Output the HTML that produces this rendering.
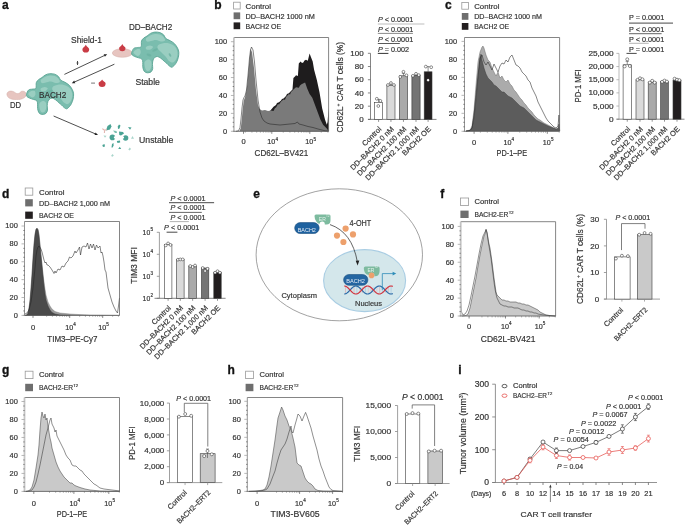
<!DOCTYPE html>
<html><head><meta charset="utf-8"><title>Figure</title>
<style>
html,body{margin:0;padding:0;background:#fff;}
body{width:685px;height:526px;overflow:hidden;}
svg{display:block;font-family:"Liberation Sans",sans-serif;will-change:transform;}
text:not([fill]){stroke:#333;stroke-width:0.18px;}

</style></head><body>
<svg width="685" height="526" viewBox="0 0 685 526">
<rect width="685" height="526" fill="#fff"/>
<g fill="#333">
<text x="1.90" y="9.20" font-size="12" fill="#111" font-weight="bold" stroke="#111" stroke-width="0.3">a</text>
<text x="71.00" y="42.60" font-size="8.4" textLength="31.00" lengthAdjust="spacingAndGlyphs">Shield-1</text>
<path d="M85.80,44.80 C86.82,47.14 89.20,47.84 89.20,49.20 A3.40,3.40 0 0 1 82.40,49.20 C82.40,47.84 84.78,47.14 85.80,44.80 Z" fill="#c93c45"/>
<line x1="64.40" y1="74.40" x2="104.76" y2="55.35" stroke="#222" stroke-width="0.8"/>
<path d="M107.20,54.20 L104.90,56.83 L103.71,54.30 Z" fill="#222"/>
<line x1="114.40" y1="64.20" x2="74.27" y2="82.10" stroke="#222" stroke-width="0.8"/>
<path d="M71.80,83.20 L74.15,80.62 L75.29,83.18 Z" fill="#222"/>
<line x1="76.00" y1="63.00" x2="79.00" y2="63.00" stroke="#777" stroke-width="0.6"/>
<line x1="77.50" y1="61.00" x2="77.50" y2="65.00" stroke="#333" stroke-width="0.9"/>
<line x1="91.10" y1="83.10" x2="95.00" y2="83.10" stroke="#666" stroke-width="0.9"/>
<path d="M102.10,79.60 C103.15,81.79 105.60,82.00 105.60,83.40 A3.50,3.50 0 0 1 98.60,83.40 C98.60,82.00 101.05,81.79 102.10,79.60 Z" fill="#c93c45"/>
<ellipse cx="122.3" cy="53" rx="10" ry="4.3" fill="#e7c5c0" stroke="#d2aaa5" stroke-width="0.5"/>
<path d="M122.30,44.00 C123.26,46.19 125.50,46.82 125.50,48.10 A3.20,3.20 0 0 1 119.10,48.10 C119.10,46.82 121.34,46.19 122.30,44.00 Z" fill="#c93c45"/>
<path d="M131.70,52.70 C131.98,51.63 132.80,49.27 133.80,48.40 C134.80,47.53 136.48,47.78 137.70,47.50 C138.92,47.22 140.47,47.77 141.10,46.70 C141.73,45.63 141.07,42.53 141.50,41.10 C141.93,39.67 142.77,38.95 143.70,38.10 C144.63,37.25 145.97,36.78 147.10,36.00 C148.23,35.22 149.22,34.05 150.50,33.40 C151.78,32.75 153.23,32.23 154.80,32.10 C156.37,31.97 158.40,32.10 159.90,32.60 C161.40,33.10 162.80,34.10 163.80,35.10 C164.80,36.10 164.83,37.67 165.90,38.60 C166.97,39.53 168.77,39.85 170.20,40.70 C171.63,41.55 173.28,42.48 174.50,43.70 C175.72,44.92 176.78,46.58 177.50,48.00 C178.22,49.42 178.67,50.63 178.80,52.20 C178.93,53.77 178.67,55.75 178.30,57.40 C177.93,59.05 177.23,60.82 176.60,62.10 C175.97,63.38 175.28,64.25 174.50,65.10 C173.72,65.95 172.77,67.07 171.90,67.20 C171.03,67.33 170.15,66.53 169.30,65.90 C168.45,65.27 167.65,64.18 166.80,63.40 C165.95,62.62 165.20,62.07 164.20,61.20 C163.20,60.33 161.93,58.98 160.80,58.20 C159.67,57.42 158.40,56.63 157.40,56.50 C156.40,56.37 155.52,56.83 154.80,57.40 C154.08,57.97 153.50,58.77 153.10,59.90 C152.70,61.03 152.47,62.77 152.40,64.20 C152.33,65.63 152.93,67.22 152.70,68.50 C152.47,69.78 151.93,71.18 151.00,71.90 C150.07,72.62 148.25,72.93 147.10,72.80 C145.95,72.67 144.82,72.10 144.10,71.10 C143.38,70.10 143.02,68.23 142.80,66.80 C142.58,65.37 142.93,63.78 142.80,62.50 C142.67,61.22 142.70,59.88 142.00,59.10 C141.30,58.32 139.82,58.23 138.60,57.80 C137.38,57.37 135.78,57.00 134.70,56.50 C133.62,56.00 132.60,55.43 132.10,54.80 C131.60,54.17 131.42,53.77 131.70,52.70 Z" fill="#7abdae" stroke="#5aa493" stroke-width="0.9"/>
<path d="M146.00,38.50 C146.50,37.50 148.50,36.25 150.00,35.50 C151.50,34.75 153.33,34.17 155.00,34.00 C156.67,33.83 158.58,34.00 160.00,34.50 C161.42,35.00 162.67,36.00 163.50,37.00 C164.33,38.00 165.42,39.75 165.00,40.50 C164.58,41.25 162.50,41.58 161.00,41.50 C159.50,41.42 157.67,40.08 156.00,40.00 C154.33,39.92 152.50,40.75 151.00,41.00 C149.50,41.25 147.83,41.92 147.00,41.50 C146.17,41.08 145.50,39.50 146.00,38.50 Z" fill="#9dcfc3" opacity="0.9"/>
<path d="M159.00,44.50 C160.42,43.67 163.83,43.00 166.00,43.00 C168.17,43.00 170.33,43.67 172.00,44.50 C173.67,45.33 175.08,46.58 176.00,48.00 C176.92,49.42 177.42,51.25 177.50,53.00 C177.58,54.75 177.25,56.92 176.50,58.50 C175.75,60.08 174.25,62.08 173.00,62.50 C171.75,62.92 170.17,61.92 169.00,61.00 C167.83,60.08 167.33,58.50 166.00,57.00 C164.67,55.50 162.42,53.50 161.00,52.00 C159.58,50.50 157.83,49.25 157.50,48.00 C157.17,46.75 157.58,45.33 159.00,44.50 Z" fill="#9dcfc3" opacity="0.9"/>
<path d="M144.50,62.50 C144.83,60.75 146.92,59.75 148.00,59.50 C149.08,59.25 150.42,59.92 151.00,61.00 C151.58,62.08 151.75,64.42 151.50,66.00 C151.25,67.58 150.42,69.83 149.50,70.50 C148.58,71.17 146.83,71.33 146.00,70.00 C145.17,68.67 144.17,64.25 144.50,62.50 Z" fill="#9dcfc3" opacity="0.9"/>
<path d="M133.50,52.50 C133.33,51.42 135.42,50.00 136.50,49.50 C137.58,49.00 139.33,48.83 140.00,49.50 C140.67,50.17 140.92,52.42 140.50,53.50 C140.08,54.58 138.67,56.17 137.50,56.00 C136.33,55.83 133.67,53.58 133.50,52.50 Z" fill="#9dcfc3" opacity="0.9"/>
<path d="M146.00,47.00 C146.58,46.33 148.83,45.50 150.00,45.50 C151.17,45.50 152.92,46.33 153.00,47.00 C153.08,47.67 151.58,49.08 150.50,49.50 C149.42,49.92 147.25,49.92 146.50,49.50 C145.75,49.08 145.42,47.67 146.00,47.00 Z" fill="#9dcfc3" opacity="0.9"/>
<ellipse cx="155.00" cy="50.00" rx="3" ry="1.2" transform="rotate(-25 155.00 50.00)" fill="#6cb1a1" opacity="0.8"/>
<ellipse cx="149.00" cy="55.00" rx="2.5" ry="1.2" transform="rotate(20 149.00 55.00)" fill="#6cb1a1" opacity="0.8"/>
<ellipse cx="170.00" cy="55.00" rx="2" ry="1" transform="rotate(60 170.00 55.00)" fill="#6cb1a1" opacity="0.8"/>
<text x="129.00" y="30.40" font-size="8.4" textLength="43.20" lengthAdjust="spacingAndGlyphs">DD–BACH2</text>
<text x="135.40" y="85.20" font-size="8.4" textLength="24.50" lengthAdjust="spacingAndGlyphs">Stable</text>
<path d="M7.20,93.00 C7.58,92.38 8.50,91.60 9.30,91.30 C10.10,91.00 11.22,91.10 12.00,91.20 C12.78,91.30 13.33,91.57 14.00,91.90 C14.67,92.23 15.42,92.92 16.00,93.20 C16.58,93.48 16.92,93.63 17.50,93.60 C18.08,93.57 18.82,93.38 19.50,93.00 C20.18,92.62 20.85,91.57 21.60,91.30 C22.35,91.03 23.33,91.20 24.00,91.40 C24.67,91.60 25.22,91.93 25.60,92.50 C25.98,93.07 26.48,93.95 26.30,94.80 C26.12,95.65 25.47,96.85 24.50,97.60 C23.53,98.35 21.85,98.98 20.50,99.30 C19.15,99.62 17.82,99.52 16.40,99.50 C14.98,99.48 13.32,99.52 12.00,99.20 C10.68,98.88 9.33,98.30 8.50,97.60 C7.67,96.90 7.22,95.77 7.00,95.00 C6.78,94.23 6.82,93.62 7.20,93.00 Z" fill="#e7c5c0" stroke="#d2aaa5" stroke-width="0.5"/>
<path d="M26.50,94.30 C26.78,93.23 27.60,90.87 28.60,90.00 C29.60,89.13 31.28,89.38 32.50,89.10 C33.72,88.82 35.27,89.37 35.90,88.30 C36.53,87.23 35.87,84.13 36.30,82.70 C36.73,81.27 37.57,80.55 38.50,79.70 C39.43,78.85 40.77,78.38 41.90,77.60 C43.03,76.82 44.02,75.65 45.30,75.00 C46.58,74.35 48.03,73.83 49.60,73.70 C51.17,73.57 53.20,73.70 54.70,74.20 C56.20,74.70 57.60,75.70 58.60,76.70 C59.60,77.70 59.63,79.27 60.70,80.20 C61.77,81.13 63.57,81.45 65.00,82.30 C66.43,83.15 68.08,84.08 69.30,85.30 C70.52,86.52 71.58,88.18 72.30,89.60 C73.02,91.02 73.47,92.23 73.60,93.80 C73.73,95.37 73.47,97.35 73.10,99.00 C72.73,100.65 72.03,102.42 71.40,103.70 C70.77,104.98 70.08,105.85 69.30,106.70 C68.52,107.55 67.57,108.67 66.70,108.80 C65.83,108.93 64.95,108.13 64.10,107.50 C63.25,106.87 62.45,105.78 61.60,105.00 C60.75,104.22 60.00,103.67 59.00,102.80 C58.00,101.93 56.73,100.58 55.60,99.80 C54.47,99.02 53.20,98.23 52.20,98.10 C51.20,97.97 50.32,98.43 49.60,99.00 C48.88,99.57 48.30,100.37 47.90,101.50 C47.50,102.63 47.27,104.37 47.20,105.80 C47.13,107.23 47.73,108.82 47.50,110.10 C47.27,111.38 46.73,112.78 45.80,113.50 C44.87,114.22 43.05,114.53 41.90,114.40 C40.75,114.27 39.62,113.70 38.90,112.70 C38.18,111.70 37.82,109.83 37.60,108.40 C37.38,106.97 37.73,105.38 37.60,104.10 C37.47,102.82 37.50,101.48 36.80,100.70 C36.10,99.92 34.62,99.83 33.40,99.40 C32.18,98.97 30.58,98.60 29.50,98.10 C28.42,97.60 27.40,97.03 26.90,96.40 C26.40,95.77 26.22,95.37 26.50,94.30 Z" fill="#7abdae" stroke="#5aa493" stroke-width="0.9"/>
<path d="M40.80,80.10 C41.30,79.10 43.30,77.85 44.80,77.10 C46.30,76.35 48.13,75.77 49.80,75.60 C51.47,75.43 53.38,75.60 54.80,76.10 C56.22,76.60 57.47,77.60 58.30,78.60 C59.13,79.60 60.22,81.35 59.80,82.10 C59.38,82.85 57.30,83.18 55.80,83.10 C54.30,83.02 52.47,81.68 50.80,81.60 C49.13,81.52 47.30,82.35 45.80,82.60 C44.30,82.85 42.63,83.52 41.80,83.10 C40.97,82.68 40.30,81.10 40.80,80.10 Z" fill="#9dcfc3" opacity="0.9"/>
<path d="M53.80,86.10 C55.22,85.27 58.63,84.60 60.80,84.60 C62.97,84.60 65.13,85.27 66.80,86.10 C68.47,86.93 69.88,88.18 70.80,89.60 C71.72,91.02 72.22,92.85 72.30,94.60 C72.38,96.35 72.05,98.52 71.30,100.10 C70.55,101.68 69.05,103.68 67.80,104.10 C66.55,104.52 64.97,103.52 63.80,102.60 C62.63,101.68 62.13,100.10 60.80,98.60 C59.47,97.10 57.22,95.10 55.80,93.60 C54.38,92.10 52.63,90.85 52.30,89.60 C51.97,88.35 52.38,86.93 53.80,86.10 Z" fill="#9dcfc3" opacity="0.9"/>
<path d="M39.30,104.10 C39.63,102.35 41.72,101.35 42.80,101.10 C43.88,100.85 45.22,101.52 45.80,102.60 C46.38,103.68 46.55,106.02 46.30,107.60 C46.05,109.18 45.22,111.43 44.30,112.10 C43.38,112.77 41.63,112.93 40.80,111.60 C39.97,110.27 38.97,105.85 39.30,104.10 Z" fill="#9dcfc3" opacity="0.9"/>
<path d="M28.30,94.10 C28.13,93.02 30.22,91.60 31.30,91.10 C32.38,90.60 34.13,90.43 34.80,91.10 C35.47,91.77 35.72,94.02 35.30,95.10 C34.88,96.18 33.47,97.77 32.30,97.60 C31.13,97.43 28.47,95.18 28.30,94.10 Z" fill="#9dcfc3" opacity="0.9"/>
<path d="M40.80,88.60 C41.38,87.93 43.63,87.10 44.80,87.10 C45.97,87.10 47.72,87.93 47.80,88.60 C47.88,89.27 46.38,90.68 45.30,91.10 C44.22,91.52 42.05,91.52 41.30,91.10 C40.55,90.68 40.22,89.27 40.80,88.60 Z" fill="#9dcfc3" opacity="0.9"/>
<ellipse cx="49.80" cy="91.60" rx="3" ry="1.2" transform="rotate(-25 49.80 91.60)" fill="#6cb1a1" opacity="0.8"/>
<ellipse cx="43.80" cy="96.60" rx="2.5" ry="1.2" transform="rotate(20 43.80 96.60)" fill="#6cb1a1" opacity="0.8"/>
<ellipse cx="64.80" cy="96.60" rx="2" ry="1" transform="rotate(60 64.80 96.60)" fill="#6cb1a1" opacity="0.8"/>
<text x="39.10" y="98.30" font-size="8.4" textLength="27.20" lengthAdjust="spacingAndGlyphs">BACH2</text>
<text x="9.90" y="108.00" font-size="8.2" textLength="11.10" lengthAdjust="spacingAndGlyphs">DD</text>
<line x1="53.60" y1="116.00" x2="95.52" y2="133.94" stroke="#222" stroke-width="0.8"/>
<path d="M98.00,135.00 L94.51,135.03 L95.61,132.45 Z" fill="#222"/>
<text x="139.00" y="142.90" font-size="8.6" textLength="34.40" lengthAdjust="spacingAndGlyphs">Unstable</text>
<path d="M106,130.5 L107.5,126 L110.5,124 L111.5,126.5 L110,129.5 Z" fill="#4aa394"/>
<path d="M118,129 L117.8,126.5 L119,124.5 L120.5,125.5 L119.5,128.5 Z" fill="#4aa394"/>
<path d="M128,127 L131.5,127.5 L130,129.8 Z" fill="#4aa394"/>
<path d="M113,130.5 L116.5,131 L117,133 L115,133 Z" fill="#7fc0b2"/>
<path d="M119,131.5 L123,132 L124,133.5 L121,135.5 L119.3,135 Z" fill="#4aa394"/>
<path d="M116.8,141 L120,140.5 L120.2,142.5 L117.5,143 Z" fill="#4aa394"/>
<path d="M103.5,135.6 L106.5,135.8 L105,137.8 Z" fill="#a8d5cb"/>
<path d="M131,138.8 L132.5,136 L134,138.8 Z" fill="#a8d5cb"/>
<path d="M102.3,145 L104.5,144 L105,146.5 L103,147 Z" fill="#4aa394"/>
<path d="M111.5,147.5 L112,144 L113.5,143 L113.6,145.5 L112.6,147.5 Z" fill="#4aa394"/>
<path d="M118.2,149 L119.7,146.8 L121.2,149 Z" fill="#4aa394"/>
<path d="M128.3,149.5 L129.8,147.5 L131,149 L129.5,150.5 Z" fill="#a8d5cb"/>
<path d="M111,156 L112.5,154 L113.8,155.5 L112.5,156.7 Z" fill="#a8d5cb"/>
<circle cx="112.4" cy="137.4" r="2.8" fill="#4aa394"/><circle cx="115.1" cy="137.4" r="1.2" fill="#fff"/>
<circle cx="125.6" cy="138" r="2.7" fill="#4aa394"/><circle cx="123" cy="137.6" r="1.1" fill="#fff"/>
<path d="M102.3,128.6 L104.6,130.3 L106.8,129.6 M104.6,130.3 L104.4,133" stroke="#e2b7b1" stroke-width="1.1" fill="none"/>
<text x="214.20" y="9.00" font-size="12" fill="#111" font-weight="bold" stroke="#111" stroke-width="0.3">b</text>
<rect x="233.60" y="2.20" width="6.60" height="6.80" fill="#fff" stroke="#999" stroke-width="0.8"/>
<text x="245.60" y="9.00" font-size="7.4" textLength="25.40" lengthAdjust="spacingAndGlyphs">Control</text>
<rect x="233.60" y="12.40" width="6.60" height="6.80" fill="#6e6e6e" stroke="none" stroke-width="0.8"/>
<text x="245.60" y="18.90" font-size="7.4" textLength="69.20" lengthAdjust="spacingAndGlyphs">DD–BACH2 1000 nM</text>
<rect x="233.60" y="22.40" width="6.60" height="6.80" fill="#231f20" stroke="none" stroke-width="0.8"/>
<text x="245.60" y="28.70" font-size="7.4" textLength="35.60" lengthAdjust="spacingAndGlyphs">BACH2 OE</text>
<path d="M236.00,131.30 L236.00,131.30 L238.50,130.80 L240.00,127.50 L241.00,119.00 L242.00,108.00 L243.00,100.00 L244.00,97.50 L245.00,96.00 L246.50,90.00 L248.00,75.00 L249.50,58.00 L250.50,50.00 L251.50,47.00 L253.00,50.00 L254.50,62.00 L256.00,80.00 L258.00,100.00 L260.00,112.00 L262.00,118.00 L264.00,121.00 L267.00,123.00 L270.00,124.00 L275.00,124.50 L280.00,125.00 L285.00,124.50 L290.00,124.00 L295.00,123.50 L297.40,122.00 L299.00,124.00 L303.00,125.00 L308.00,126.50 L313.00,127.50 L318.00,129.00 L322.00,130.00 L325.00,130.80 L328.60,131.00 L328.60,131.30 Z" fill="#fff" stroke="none" stroke-width="0.6" stroke-linejoin="round"/>
<path d="M270.00,131.30 L270.00,111.00 L273.50,106.80 L276.00,105.00 L277.00,103.00 L279.00,102.20 L281.00,100.50 L282.00,99.00 L283.50,98.60 L286.00,96.00 L287.00,94.00 L288.90,93.20 L291.00,91.00 L292.50,89.60 L293.40,77.90 L295.00,76.50 L296.00,75.20 L297.90,76.10 L298.80,63.50 L300.60,61.60 L302.00,63.00 L303.30,62.60 L304.50,60.50 L306.00,59.80 L307.80,60.70 L309.60,53.50 L310.90,57.10 L312.70,61.60 L314.10,69.80 L316.80,79.70 L319.50,92.30 L322.20,108.60 L325.00,119.40 L326.80,124.80 L327.60,122.00 L328.60,108.00 L328.60,131.30 Z" fill="#1e1c1d" stroke="none" stroke-width="0.6" stroke-linejoin="round"/>
<path d="M239.50,131.30 L239.50,131.30 L240.80,128.00 L241.80,119.00 L242.80,108.00 L243.80,100.50 L245.00,97.50 L246.20,92.00 L247.20,85.00 L248.40,72.00 L249.60,58.00 L250.60,49.00 L252.00,52.00 L254.00,68.00 L256.00,90.00 L258.00,105.00 L259.50,109.00 L262.00,110.50 L265.00,110.00 L268.00,111.00 L271.00,110.50 L273.50,111.00 L275.00,108.00 L276.00,107.50 L278.00,104.00 L279.00,104.50 L281.00,101.50 L283.50,99.50 L285.00,99.80 L286.00,97.00 L288.90,94.10 L290.00,94.50 L291.00,92.00 L292.50,90.50 L294.00,89.00 L296.00,87.30 L298.80,87.80 L300.00,85.50 L301.50,84.20 L303.00,83.50 L305.10,82.40 L307.30,88.70 L309.60,94.10 L312.30,97.70 L315.00,105.00 L317.70,112.20 L320.40,119.40 L323.10,124.80 L326.80,128.40 L328.60,131.30 L328.60,131.30 Z" fill="#7a7a7a" stroke="none" stroke-width="0.6" stroke-linejoin="round"/>
<path d="M236.00,131.30 L238.50,130.80 L240.00,127.50 L241.00,119.00 L242.00,108.00 L243.00,100.00 L244.00,97.50 L245.00,96.00 L246.50,90.00 L248.00,75.00 L249.50,58.00 L250.50,50.00 L251.50,47.00 L253.00,50.00 L254.50,62.00 L256.00,80.00 L258.00,100.00 L260.00,112.00 L262.00,118.00 L264.00,121.00 L267.00,123.00 L270.00,124.00 L275.00,124.50 L280.00,125.00 L285.00,124.50 L290.00,124.00 L295.00,123.50 L297.40,122.00 L299.00,124.00 L303.00,125.00 L308.00,126.50 L313.00,127.50 L318.00,129.00 L322.00,130.00 L325.00,130.80 L328.60,131.00" fill="none" stroke="#222" stroke-width="0.55" stroke-linejoin="round"/>
<path d="M233.90,37.50 L328.60,37.50 L328.60,131.30" fill="none" stroke="#666" stroke-width="0.8"/>
<line x1="233.90" y1="37.50" x2="233.90" y2="131.30" stroke="#c4c4c4" stroke-width="1.8"/>
<line x1="232.90" y1="131.30" x2="328.60" y2="131.30" stroke="#555" stroke-width="0.8"/>
<text x="227.10" y="44.10" font-size="7.0" text-anchor="end" textLength="12.45" lengthAdjust="spacingAndGlyphs">100</text>
<line x1="230.90" y1="41.70" x2="233.90" y2="41.70" stroke="#999" stroke-width="0.7"/>
<text x="227.10" y="62.02" font-size="7.0" text-anchor="end" textLength="8.30" lengthAdjust="spacingAndGlyphs">80</text>
<line x1="230.90" y1="59.62" x2="233.90" y2="59.62" stroke="#999" stroke-width="0.7"/>
<text x="227.10" y="79.94" font-size="7.0" text-anchor="end" textLength="8.30" lengthAdjust="spacingAndGlyphs">60</text>
<line x1="230.90" y1="77.54" x2="233.90" y2="77.54" stroke="#999" stroke-width="0.7"/>
<text x="227.10" y="97.86" font-size="7.0" text-anchor="end" textLength="8.30" lengthAdjust="spacingAndGlyphs">40</text>
<line x1="230.90" y1="95.46" x2="233.90" y2="95.46" stroke="#999" stroke-width="0.7"/>
<text x="227.10" y="115.78" font-size="7.0" text-anchor="end" textLength="8.30" lengthAdjust="spacingAndGlyphs">20</text>
<line x1="230.90" y1="113.38" x2="233.90" y2="113.38" stroke="#999" stroke-width="0.7"/>
<text x="227.10" y="133.70" font-size="7.0" text-anchor="end" textLength="4.15" lengthAdjust="spacingAndGlyphs">0</text>
<line x1="230.90" y1="131.30" x2="233.90" y2="131.30" stroke="#999" stroke-width="0.7"/>
<line x1="232.70" y1="46.18" x2="233.90" y2="46.18" stroke="#333" stroke-width="0.6"/>
<line x1="232.70" y1="50.66" x2="233.90" y2="50.66" stroke="#333" stroke-width="0.6"/>
<line x1="232.70" y1="55.14" x2="233.90" y2="55.14" stroke="#333" stroke-width="0.6"/>
<line x1="232.70" y1="64.10" x2="233.90" y2="64.10" stroke="#333" stroke-width="0.6"/>
<line x1="232.70" y1="68.58" x2="233.90" y2="68.58" stroke="#333" stroke-width="0.6"/>
<line x1="232.70" y1="73.06" x2="233.90" y2="73.06" stroke="#333" stroke-width="0.6"/>
<line x1="232.70" y1="82.02" x2="233.90" y2="82.02" stroke="#333" stroke-width="0.6"/>
<line x1="232.70" y1="86.50" x2="233.90" y2="86.50" stroke="#333" stroke-width="0.6"/>
<line x1="232.70" y1="90.98" x2="233.90" y2="90.98" stroke="#333" stroke-width="0.6"/>
<line x1="232.70" y1="99.94" x2="233.90" y2="99.94" stroke="#333" stroke-width="0.6"/>
<line x1="232.70" y1="104.42" x2="233.90" y2="104.42" stroke="#333" stroke-width="0.6"/>
<line x1="232.70" y1="108.90" x2="233.90" y2="108.90" stroke="#333" stroke-width="0.6"/>
<line x1="232.70" y1="117.86" x2="233.90" y2="117.86" stroke="#333" stroke-width="0.6"/>
<line x1="232.70" y1="122.34" x2="233.90" y2="122.34" stroke="#333" stroke-width="0.6"/>
<line x1="232.70" y1="126.82" x2="233.90" y2="126.82" stroke="#333" stroke-width="0.6"/>
<text x="243.50" y="144.00" font-size="7.4" text-anchor="middle" textLength="4.20" lengthAdjust="spacingAndGlyphs">0</text>
<text x="271.30" y="144.00" font-size="7.4" text-anchor="middle" textLength="8.00" lengthAdjust="spacingAndGlyphs">10</text>
<text x="275.40" y="140.60" font-size="4.6">4</text>
<text x="309.30" y="144.00" font-size="7.4" text-anchor="middle" textLength="8.00" lengthAdjust="spacingAndGlyphs">10</text>
<text x="313.40" y="140.60" font-size="4.6">5</text>
<text x="254.60" y="156.40" font-size="8.5" textLength="53.60" lengthAdjust="spacingAndGlyphs">CD62L–BV421</text>
<line x1="243.50" y1="131.30" x2="243.50" y2="133.80" stroke="#555" stroke-width="0.7"/>
<line x1="271.80" y1="131.30" x2="271.80" y2="133.80" stroke="#555" stroke-width="0.7"/>
<line x1="309.80" y1="131.30" x2="309.80" y2="133.80" stroke="#555" stroke-width="0.7"/>
<line x1="283.24" y1="131.30" x2="283.24" y2="132.80" stroke="#555" stroke-width="0.4"/>
<line x1="245.24" y1="131.30" x2="245.24" y2="132.80" stroke="#555" stroke-width="0.4"/>
<line x1="321.24" y1="131.30" x2="321.24" y2="132.80" stroke="#555" stroke-width="0.4"/>
<line x1="289.93" y1="131.30" x2="289.93" y2="132.80" stroke="#555" stroke-width="0.4"/>
<line x1="251.93" y1="131.30" x2="251.93" y2="132.80" stroke="#555" stroke-width="0.4"/>
<line x1="327.93" y1="131.30" x2="327.93" y2="132.80" stroke="#555" stroke-width="0.4"/>
<line x1="294.68" y1="131.30" x2="294.68" y2="132.80" stroke="#555" stroke-width="0.4"/>
<line x1="256.68" y1="131.30" x2="256.68" y2="132.80" stroke="#555" stroke-width="0.4"/>
<line x1="298.36" y1="131.30" x2="298.36" y2="132.80" stroke="#555" stroke-width="0.4"/>
<line x1="260.36" y1="131.30" x2="260.36" y2="132.80" stroke="#555" stroke-width="0.4"/>
<line x1="301.37" y1="131.30" x2="301.37" y2="132.80" stroke="#555" stroke-width="0.4"/>
<line x1="263.37" y1="131.30" x2="263.37" y2="132.80" stroke="#555" stroke-width="0.4"/>
<line x1="303.91" y1="131.30" x2="303.91" y2="132.80" stroke="#555" stroke-width="0.4"/>
<line x1="265.91" y1="131.30" x2="265.91" y2="132.80" stroke="#555" stroke-width="0.4"/>
<line x1="306.12" y1="131.30" x2="306.12" y2="132.80" stroke="#555" stroke-width="0.4"/>
<line x1="268.12" y1="131.30" x2="268.12" y2="132.80" stroke="#555" stroke-width="0.4"/>
<line x1="308.06" y1="131.30" x2="308.06" y2="132.80" stroke="#555" stroke-width="0.4"/>
<line x1="270.06" y1="131.30" x2="270.06" y2="132.80" stroke="#555" stroke-width="0.4"/>
<line x1="370.50" y1="53.30" x2="370.50" y2="119.40" stroke="#666" stroke-width="0.8"/>
<text x="363.60" y="122.00" font-size="7.2" text-anchor="end" textLength="4.45" lengthAdjust="spacingAndGlyphs">0</text>
<line x1="367.90" y1="119.40" x2="370.50" y2="119.40" stroke="#666" stroke-width="0.8"/>
<text x="363.60" y="108.78" font-size="7.2" text-anchor="end" textLength="8.90" lengthAdjust="spacingAndGlyphs">20</text>
<line x1="367.90" y1="106.18" x2="370.50" y2="106.18" stroke="#666" stroke-width="0.8"/>
<text x="363.60" y="95.56" font-size="7.2" text-anchor="end" textLength="8.90" lengthAdjust="spacingAndGlyphs">40</text>
<line x1="367.90" y1="92.96" x2="370.50" y2="92.96" stroke="#666" stroke-width="0.8"/>
<text x="363.60" y="82.34" font-size="7.2" text-anchor="end" textLength="8.90" lengthAdjust="spacingAndGlyphs">60</text>
<line x1="367.90" y1="79.74" x2="370.50" y2="79.74" stroke="#666" stroke-width="0.8"/>
<text x="363.60" y="69.12" font-size="7.2" text-anchor="end" textLength="8.90" lengthAdjust="spacingAndGlyphs">80</text>
<line x1="367.90" y1="66.52" x2="370.50" y2="66.52" stroke="#666" stroke-width="0.8"/>
<text x="363.60" y="55.90" font-size="7.2" text-anchor="end" textLength="13.35" lengthAdjust="spacingAndGlyphs">100</text>
<line x1="367.90" y1="53.30" x2="370.50" y2="53.30" stroke="#666" stroke-width="0.8"/>
<line x1="378.60" y1="99.40" x2="378.60" y2="102.40" stroke="#333" stroke-width="0.55"/>
<line x1="377.00" y1="99.40" x2="380.20" y2="99.40" stroke="#333" stroke-width="0.55"/>
<line x1="390.95" y1="84.00" x2="390.95" y2="85.50" stroke="#333" stroke-width="0.55"/>
<line x1="389.35" y1="84.00" x2="392.55" y2="84.00" stroke="#333" stroke-width="0.55"/>
<line x1="403.45" y1="73.30" x2="403.45" y2="75.80" stroke="#333" stroke-width="0.55"/>
<line x1="401.85" y1="73.30" x2="405.05" y2="73.30" stroke="#333" stroke-width="0.55"/>
<line x1="416.00" y1="74.30" x2="416.00" y2="75.30" stroke="#333" stroke-width="0.55"/>
<line x1="414.40" y1="74.30" x2="417.60" y2="74.30" stroke="#333" stroke-width="0.55"/>
<line x1="428.10" y1="66.60" x2="428.10" y2="71.80" stroke="#333" stroke-width="0.55"/>
<line x1="426.50" y1="66.60" x2="429.70" y2="66.60" stroke="#333" stroke-width="0.55"/>
<line x1="368.00" y1="119.40" x2="436.50" y2="119.40" stroke="#666" stroke-width="0.8"/>
<rect x="374.60" y="102.40" width="8.00" height="17.00" fill="#ffffff" stroke="#3a3a3a" stroke-width="0.6"/>
<line x1="378.60" y1="119.40" x2="378.60" y2="121.90" stroke="#666" stroke-width="0.7"/>
<circle cx="376.80" cy="98.80" r="1.4" fill="#fff" stroke="#333" stroke-width="0.55"/>
<circle cx="380.40" cy="100.90" r="1.4" fill="#fff" stroke="#333" stroke-width="0.55"/>
<circle cx="378.30" cy="106.00" r="1.4" fill="#fff" stroke="#333" stroke-width="0.55"/>
<rect x="386.90" y="85.50" width="8.10" height="33.90" fill="#dadada" stroke="#3a3a3a" stroke-width="0.6"/>
<line x1="390.95" y1="119.40" x2="390.95" y2="121.90" stroke="#666" stroke-width="0.7"/>
<circle cx="387.95" cy="85.00" r="1.4" fill="#fff" stroke="#333" stroke-width="0.55"/>
<circle cx="390.95" cy="83.00" r="1.4" fill="#fff" stroke="#333" stroke-width="0.55"/>
<circle cx="393.95" cy="85.00" r="1.4" fill="#fff" stroke="#333" stroke-width="0.55"/>
<rect x="399.30" y="75.80" width="8.30" height="43.60" fill="#a9a9a9" stroke="#3a3a3a" stroke-width="0.6"/>
<line x1="403.45" y1="119.40" x2="403.45" y2="121.90" stroke="#666" stroke-width="0.7"/>
<circle cx="400.25" cy="76.90" r="1.4" fill="#fff" stroke="#333" stroke-width="0.55"/>
<circle cx="403.45" cy="71.80" r="1.4" fill="#fff" stroke="#333" stroke-width="0.55"/>
<circle cx="406.45" cy="75.30" r="1.4" fill="#fff" stroke="#333" stroke-width="0.55"/>
<rect x="411.90" y="75.30" width="8.20" height="44.10" fill="#747474" stroke="#3a3a3a" stroke-width="0.6"/>
<line x1="416.00" y1="119.40" x2="416.00" y2="121.90" stroke="#666" stroke-width="0.7"/>
<circle cx="412.90" cy="75.80" r="1.4" fill="#fff" stroke="#333" stroke-width="0.55"/>
<circle cx="416.00" cy="73.80" r="1.4" fill="#fff" stroke="#333" stroke-width="0.55"/>
<circle cx="418.80" cy="75.10" r="1.4" fill="#fff" stroke="#333" stroke-width="0.55"/>
<rect x="424.20" y="71.80" width="7.80" height="47.60" fill="#221e1f" stroke="#3a3a3a" stroke-width="0.6"/>
<line x1="428.10" y1="119.40" x2="428.10" y2="121.90" stroke="#666" stroke-width="0.7"/>
<circle cx="425.80" cy="66.60" r="1.4" fill="#fff" stroke="#333" stroke-width="0.55"/>
<circle cx="431.20" cy="67.20" r="1.4" fill="#fff" stroke="#333" stroke-width="0.55"/>
<circle cx="428.10" cy="80.20" r="1.1" fill="#fff" stroke="#fff" stroke-width="0.3"/>
<text x="0" y="0" font-size="8.6" text-anchor="middle" transform="translate(343.40,87.30) rotate(-90)" textLength="90.6" lengthAdjust="spacingAndGlyphs">CD62L<tspan font-size="5" dy="-3.2">+</tspan><tspan dy="3.2"> CAR T cells (%)</tspan></text>
<text x="378.00" y="21.90" font-size="7.0" textLength="35.20" lengthAdjust="spacingAndGlyphs"><tspan font-style="italic">P</tspan> &lt; 0.0001</text>
<line x1="377.80" y1="24.00" x2="424.40" y2="24.00" stroke="#bdbdbd" stroke-width="1.0"/>
<text x="378.00" y="32.00" font-size="7.0" textLength="35.20" lengthAdjust="spacingAndGlyphs"><tspan font-style="italic">P</tspan> &lt; 0.0001</text>
<line x1="377.80" y1="33.40" x2="412.90" y2="33.40" stroke="#8a8a8a" stroke-width="1.0"/>
<text x="378.00" y="41.80" font-size="7.0" textLength="35.20" lengthAdjust="spacingAndGlyphs"><tspan font-style="italic">P</tspan> &lt; 0.0001</text>
<line x1="377.80" y1="43.50" x2="399.80" y2="43.50" stroke="#5a5a5a" stroke-width="1.0"/>
<text x="378.00" y="51.50" font-size="7.0" textLength="31.00" lengthAdjust="spacingAndGlyphs"><tspan font-style="italic">P</tspan> = 0.002</text>
<line x1="377.80" y1="53.40" x2="388.40" y2="53.40" stroke="#333" stroke-width="1.0"/>
<text x="381.90" y="129.60" font-size="7.4" text-anchor="end" transform="rotate(-45 381.90 129.60)">Control</text>
<text x="394.25" y="129.60" font-size="7.4" text-anchor="end" transform="rotate(-45 394.25 129.60)">DD–BACH2 0 nM</text>
<text x="406.75" y="129.60" font-size="7.4" text-anchor="end" transform="rotate(-45 406.75 129.60)">DD–BACH2 100 nM</text>
<text x="419.30" y="129.60" font-size="7.4" text-anchor="end" transform="rotate(-45 419.30 129.60)">DD–BACH2 1,000 nM</text>
<text x="431.40" y="129.60" font-size="7.4" text-anchor="end" transform="rotate(-45 431.40 129.60)">BACH2 OE</text>
<text x="445.00" y="9.00" font-size="12" fill="#111" font-weight="bold" stroke="#111" stroke-width="0.3">c</text>
<rect x="461.80" y="2.40" width="6.60" height="6.80" fill="#fff" stroke="#999" stroke-width="0.8"/>
<text x="474.20" y="9.00" font-size="7.4" textLength="25.20" lengthAdjust="spacingAndGlyphs">Control</text>
<rect x="461.80" y="13.00" width="6.60" height="6.80" fill="#6e6e6e" stroke="none" stroke-width="0.8"/>
<text x="474.20" y="18.80" font-size="7.4" textLength="67.80" lengthAdjust="spacingAndGlyphs">DD–BACH2 1000 nM</text>
<rect x="461.80" y="23.00" width="6.60" height="6.80" fill="#231f20" stroke="none" stroke-width="0.8"/>
<text x="474.20" y="28.60" font-size="7.4" textLength="35.00" lengthAdjust="spacingAndGlyphs">BACH2 OE</text>
<path d="M466.00,131.30 L466.00,131.00 L470.00,130.50 L472.00,128.00 L474.00,115.00 L476.00,95.00 L478.00,75.00 L480.00,58.00 L482.00,55.00 L484.00,62.00 L486.00,65.00 L488.00,62.00 L490.00,66.00 L492.00,70.00 L494.00,64.00 L496.00,68.00 L498.00,72.00 L500.00,66.00 L502.00,63.00 L504.00,64.00 L506.00,60.00 L508.00,62.00 L510.00,57.00 L512.00,55.00 L514.00,60.00 L516.00,65.00 L518.00,66.00 L520.00,68.00 L522.00,72.00 L524.00,74.00 L526.00,76.00 L528.00,80.00 L530.00,82.00 L532.00,88.00 L534.00,92.00 L536.00,96.00 L538.00,102.00 L540.00,106.00 L542.00,110.00 L544.00,114.00 L546.00,118.00 L548.00,121.00 L550.00,123.00 L552.00,125.00 L554.00,127.00 L556.00,128.00 L558.00,126.00 L559.00,115.00 L559.60,131.00 L559.60,131.30 Z" fill="#fff" stroke="none" stroke-width="0.6" stroke-linejoin="round"/>
<path d="M466.00,131.30 L466.00,131.00 L470.00,130.00 L472.00,126.00 L474.00,110.00 L476.00,85.00 L478.00,62.00 L480.00,52.00 L482.00,47.00 L483.00,46.00 L484.00,48.00 L486.00,55.00 L488.00,60.00 L490.00,62.00 L492.00,68.00 L494.00,72.00 L496.00,76.00 L498.00,72.00 L500.00,78.00 L502.00,76.00 L504.00,80.00 L506.00,82.00 L508.00,80.00 L510.00,84.00 L512.00,86.00 L514.00,90.00 L516.00,92.00 L518.00,95.00 L520.00,98.00 L522.00,100.00 L524.00,103.00 L526.00,105.00 L528.00,108.00 L530.00,110.00 L532.00,112.00 L534.00,115.00 L536.00,117.00 L538.00,119.00 L540.00,120.00 L544.00,123.00 L548.00,125.00 L552.00,127.00 L556.00,129.00 L559.60,130.00 L559.60,131.30 Z" fill="#ababab" stroke="none" stroke-width="0.6" stroke-linejoin="round"/>
<path d="M466.00,131.30 L466.00,131.00 L470.00,130.50 L472.00,128.00 L474.00,118.00 L476.00,100.00 L478.00,78.00 L480.00,58.00 L481.00,54.00 L482.00,60.00 L484.00,68.00 L486.00,74.00 L488.00,78.00 L490.00,80.00 L492.00,82.00 L494.00,85.00 L496.00,86.00 L498.00,88.00 L500.00,90.00 L502.00,92.00 L504.00,92.00 L506.00,94.00 L508.00,96.00 L510.00,97.00 L512.00,98.00 L514.00,100.00 L516.00,102.00 L518.00,104.00 L520.00,106.00 L522.00,107.00 L524.00,108.00 L526.00,110.00 L528.00,112.00 L530.00,114.00 L532.00,116.00 L534.00,118.00 L536.00,120.00 L540.00,122.00 L544.00,124.00 L548.00,126.00 L552.00,127.50 L556.00,129.00 L558.00,128.00 L559.00,124.00 L559.60,131.00 L559.60,131.30 Z" fill="#5c5c5c" stroke="none" stroke-width="0.6" stroke-linejoin="round"/>
<path d="M466.00,131.00 L470.00,130.00 L472.00,126.00 L474.00,110.00 L476.00,85.00 L478.00,62.00 L480.00,52.00 L482.00,47.00 L483.00,46.00 L484.00,48.00 L486.00,55.00 L488.00,60.00 L490.00,62.00 L492.00,68.00 L494.00,72.00 L496.00,76.00 L498.00,72.00 L500.00,78.00 L502.00,76.00 L504.00,80.00 L506.00,82.00 L508.00,80.00 L510.00,84.00 L512.00,86.00 L514.00,90.00 L516.00,92.00 L518.00,95.00 L520.00,98.00 L522.00,100.00 L524.00,103.00 L526.00,105.00 L528.00,108.00 L530.00,110.00 L532.00,112.00 L534.00,115.00 L536.00,117.00 L538.00,119.00 L540.00,120.00 L544.00,123.00 L548.00,125.00 L552.00,127.00 L556.00,129.00 L559.60,130.00" fill="none" stroke="#555" stroke-width="0.4" stroke-linejoin="round"/>
<path d="M466.00,131.00 L470.00,130.50 L472.00,128.00 L474.00,118.00 L476.00,100.00 L478.00,78.00 L480.00,58.00 L481.00,54.00 L482.00,60.00 L484.00,68.00 L486.00,74.00 L488.00,78.00 L490.00,80.00 L492.00,82.00 L494.00,85.00 L496.00,86.00 L498.00,88.00 L500.00,90.00 L502.00,92.00 L504.00,92.00 L506.00,94.00 L508.00,96.00 L510.00,97.00 L512.00,98.00 L514.00,100.00 L516.00,102.00 L518.00,104.00 L520.00,106.00 L522.00,107.00 L524.00,108.00 L526.00,110.00 L528.00,112.00 L530.00,114.00 L532.00,116.00 L534.00,118.00 L536.00,120.00 L540.00,122.00 L544.00,124.00 L548.00,126.00 L552.00,127.50 L556.00,129.00 L558.00,128.00 L559.00,124.00 L559.60,131.00" fill="none" stroke="#333" stroke-width="0.4" stroke-linejoin="round"/>
<path d="M466.00,131.00 L470.00,130.50 L472.00,128.00 L474.00,115.00 L476.00,95.00 L478.00,75.00 L480.00,58.00 L482.00,55.00 L484.00,62.00 L486.00,65.00 L488.00,62.00 L490.00,66.00 L492.00,70.00 L494.00,64.00 L496.00,68.00 L498.00,72.00 L500.00,66.00 L502.00,63.00 L504.00,64.00 L506.00,60.00 L508.00,62.00 L510.00,57.00 L512.00,55.00 L514.00,60.00 L516.00,65.00 L518.00,66.00 L520.00,68.00 L522.00,72.00 L524.00,74.00 L526.00,76.00 L528.00,80.00 L530.00,82.00 L532.00,88.00 L534.00,92.00 L536.00,96.00 L538.00,102.00 L540.00,106.00 L542.00,110.00 L544.00,114.00 L546.00,118.00 L548.00,121.00 L550.00,123.00 L552.00,125.00 L554.00,127.00 L556.00,128.00 L558.00,126.00 L559.00,115.00 L559.60,131.00" fill="none" stroke="#222" stroke-width="0.55" stroke-linejoin="round"/>
<path d="M464.50,37.50 L559.60,37.50 L559.60,131.30" fill="none" stroke="#666" stroke-width="0.8"/>
<line x1="464.50" y1="37.50" x2="464.50" y2="131.30" stroke="#777" stroke-width="0.8"/>
<line x1="463.50" y1="131.30" x2="559.60" y2="131.30" stroke="#555" stroke-width="0.8"/>
<text x="457.10" y="43.80" font-size="7.0" text-anchor="end" textLength="12.45" lengthAdjust="spacingAndGlyphs">100</text>
<line x1="461.50" y1="41.40" x2="464.50" y2="41.40" stroke="#999" stroke-width="0.7"/>
<text x="457.10" y="61.78" font-size="7.0" text-anchor="end" textLength="8.30" lengthAdjust="spacingAndGlyphs">80</text>
<line x1="461.50" y1="59.38" x2="464.50" y2="59.38" stroke="#999" stroke-width="0.7"/>
<text x="457.10" y="79.76" font-size="7.0" text-anchor="end" textLength="8.30" lengthAdjust="spacingAndGlyphs">60</text>
<line x1="461.50" y1="77.36" x2="464.50" y2="77.36" stroke="#999" stroke-width="0.7"/>
<text x="457.10" y="97.74" font-size="7.0" text-anchor="end" textLength="8.30" lengthAdjust="spacingAndGlyphs">40</text>
<line x1="461.50" y1="95.34" x2="464.50" y2="95.34" stroke="#999" stroke-width="0.7"/>
<text x="457.10" y="115.72" font-size="7.0" text-anchor="end" textLength="8.30" lengthAdjust="spacingAndGlyphs">20</text>
<line x1="461.50" y1="113.32" x2="464.50" y2="113.32" stroke="#999" stroke-width="0.7"/>
<text x="457.10" y="133.70" font-size="7.0" text-anchor="end" textLength="4.15" lengthAdjust="spacingAndGlyphs">0</text>
<line x1="461.50" y1="131.30" x2="464.50" y2="131.30" stroke="#999" stroke-width="0.7"/>
<line x1="463.30" y1="45.89" x2="464.50" y2="45.89" stroke="#333" stroke-width="0.6"/>
<line x1="463.30" y1="50.39" x2="464.50" y2="50.39" stroke="#333" stroke-width="0.6"/>
<line x1="463.30" y1="54.88" x2="464.50" y2="54.88" stroke="#333" stroke-width="0.6"/>
<line x1="463.30" y1="63.88" x2="464.50" y2="63.88" stroke="#333" stroke-width="0.6"/>
<line x1="463.30" y1="68.37" x2="464.50" y2="68.37" stroke="#333" stroke-width="0.6"/>
<line x1="463.30" y1="72.86" x2="464.50" y2="72.86" stroke="#333" stroke-width="0.6"/>
<line x1="463.30" y1="81.85" x2="464.50" y2="81.85" stroke="#333" stroke-width="0.6"/>
<line x1="463.30" y1="86.35" x2="464.50" y2="86.35" stroke="#333" stroke-width="0.6"/>
<line x1="463.30" y1="90.84" x2="464.50" y2="90.84" stroke="#333" stroke-width="0.6"/>
<line x1="463.30" y1="99.84" x2="464.50" y2="99.84" stroke="#333" stroke-width="0.6"/>
<line x1="463.30" y1="104.33" x2="464.50" y2="104.33" stroke="#333" stroke-width="0.6"/>
<line x1="463.30" y1="108.82" x2="464.50" y2="108.82" stroke="#333" stroke-width="0.6"/>
<line x1="463.30" y1="117.81" x2="464.50" y2="117.81" stroke="#333" stroke-width="0.6"/>
<line x1="463.30" y1="122.31" x2="464.50" y2="122.31" stroke="#333" stroke-width="0.6"/>
<line x1="463.30" y1="126.81" x2="464.50" y2="126.81" stroke="#333" stroke-width="0.6"/>
<text x="474.10" y="144.70" font-size="7.4" text-anchor="middle" textLength="4.20" lengthAdjust="spacingAndGlyphs">0</text>
<text x="507.40" y="144.70" font-size="7.4" text-anchor="middle" textLength="8.00" lengthAdjust="spacingAndGlyphs">10</text>
<text x="511.50" y="141.30" font-size="4.6">4</text>
<text x="546.80" y="144.70" font-size="7.4" text-anchor="middle" textLength="8.00" lengthAdjust="spacingAndGlyphs">10</text>
<text x="550.90" y="141.30" font-size="4.6">5</text>
<text x="496.50" y="156.40" font-size="8.5" textLength="30.60" lengthAdjust="spacingAndGlyphs">PD-1–PE</text>
<line x1="474.10" y1="131.30" x2="474.10" y2="133.80" stroke="#555" stroke-width="0.7"/>
<line x1="507.90" y1="131.30" x2="507.90" y2="133.80" stroke="#555" stroke-width="0.7"/>
<line x1="547.30" y1="131.30" x2="547.30" y2="133.80" stroke="#555" stroke-width="0.7"/>
<line x1="519.76" y1="131.30" x2="519.76" y2="132.80" stroke="#555" stroke-width="0.4"/>
<line x1="480.36" y1="131.30" x2="480.36" y2="132.80" stroke="#555" stroke-width="0.4"/>
<line x1="559.16" y1="131.30" x2="559.16" y2="132.80" stroke="#555" stroke-width="0.4"/>
<line x1="526.70" y1="131.30" x2="526.70" y2="132.80" stroke="#555" stroke-width="0.4"/>
<line x1="487.30" y1="131.30" x2="487.30" y2="132.80" stroke="#555" stroke-width="0.4"/>
<line x1="531.62" y1="131.30" x2="531.62" y2="132.80" stroke="#555" stroke-width="0.4"/>
<line x1="492.22" y1="131.30" x2="492.22" y2="132.80" stroke="#555" stroke-width="0.4"/>
<line x1="535.44" y1="131.30" x2="535.44" y2="132.80" stroke="#555" stroke-width="0.4"/>
<line x1="496.04" y1="131.30" x2="496.04" y2="132.80" stroke="#555" stroke-width="0.4"/>
<line x1="538.56" y1="131.30" x2="538.56" y2="132.80" stroke="#555" stroke-width="0.4"/>
<line x1="499.16" y1="131.30" x2="499.16" y2="132.80" stroke="#555" stroke-width="0.4"/>
<line x1="541.20" y1="131.30" x2="541.20" y2="132.80" stroke="#555" stroke-width="0.4"/>
<line x1="501.80" y1="131.30" x2="501.80" y2="132.80" stroke="#555" stroke-width="0.4"/>
<line x1="543.48" y1="131.30" x2="543.48" y2="132.80" stroke="#555" stroke-width="0.4"/>
<line x1="504.08" y1="131.30" x2="504.08" y2="132.80" stroke="#555" stroke-width="0.4"/>
<line x1="545.50" y1="131.30" x2="545.50" y2="132.80" stroke="#555" stroke-width="0.4"/>
<line x1="506.10" y1="131.30" x2="506.10" y2="132.80" stroke="#555" stroke-width="0.4"/>
<line x1="619.00" y1="53.40" x2="619.00" y2="119.20" stroke="#aaa" stroke-width="0.8"/>
<text x="613.60" y="121.80" font-size="7.2" text-anchor="end" textLength="4.60" lengthAdjust="spacingAndGlyphs">0</text>
<line x1="616.40" y1="119.20" x2="619.00" y2="119.20" stroke="#aaa" stroke-width="0.8"/>
<text x="613.60" y="108.64" font-size="7.2" text-anchor="end" textLength="20.60" lengthAdjust="spacingAndGlyphs">5,000</text>
<line x1="616.40" y1="106.04" x2="619.00" y2="106.04" stroke="#aaa" stroke-width="0.8"/>
<text x="613.60" y="95.48" font-size="7.2" text-anchor="end" textLength="25.20" lengthAdjust="spacingAndGlyphs">10,000</text>
<line x1="616.40" y1="92.88" x2="619.00" y2="92.88" stroke="#aaa" stroke-width="0.8"/>
<text x="613.60" y="82.32" font-size="7.2" text-anchor="end" textLength="25.20" lengthAdjust="spacingAndGlyphs">15,000</text>
<line x1="616.40" y1="79.72" x2="619.00" y2="79.72" stroke="#aaa" stroke-width="0.8"/>
<text x="613.60" y="69.16" font-size="7.2" text-anchor="end" textLength="25.20" lengthAdjust="spacingAndGlyphs">20,000</text>
<line x1="616.40" y1="66.56" x2="619.00" y2="66.56" stroke="#aaa" stroke-width="0.8"/>
<text x="613.60" y="56.00" font-size="7.2" text-anchor="end" textLength="25.20" lengthAdjust="spacingAndGlyphs">25,000</text>
<line x1="616.40" y1="53.40" x2="619.00" y2="53.40" stroke="#aaa" stroke-width="0.8"/>
<line x1="627.25" y1="61.30" x2="627.25" y2="64.80" stroke="#333" stroke-width="0.55"/>
<line x1="625.65" y1="61.30" x2="628.85" y2="61.30" stroke="#333" stroke-width="0.55"/>
<line x1="640.00" y1="79.00" x2="640.00" y2="79.80" stroke="#333" stroke-width="0.55"/>
<line x1="638.40" y1="79.00" x2="641.60" y2="79.00" stroke="#333" stroke-width="0.55"/>
<line x1="652.20" y1="81.20" x2="652.20" y2="82.00" stroke="#333" stroke-width="0.55"/>
<line x1="650.60" y1="81.20" x2="653.80" y2="81.20" stroke="#333" stroke-width="0.55"/>
<line x1="664.50" y1="80.80" x2="664.50" y2="81.60" stroke="#333" stroke-width="0.55"/>
<line x1="662.90" y1="80.80" x2="666.10" y2="80.80" stroke="#333" stroke-width="0.55"/>
<line x1="677.00" y1="79.20" x2="677.00" y2="80.20" stroke="#333" stroke-width="0.55"/>
<line x1="675.40" y1="79.20" x2="678.60" y2="79.20" stroke="#333" stroke-width="0.55"/>
<line x1="616.50" y1="119.20" x2="684.50" y2="119.20" stroke="#666" stroke-width="0.8"/>
<rect x="623.10" y="64.80" width="8.30" height="54.40" fill="#ffffff" stroke="#3a3a3a" stroke-width="0.6"/>
<line x1="627.25" y1="119.20" x2="627.25" y2="121.70" stroke="#666" stroke-width="0.7"/>
<circle cx="624.65" cy="66.40" r="1.5" fill="#fff" stroke="#333" stroke-width="0.55"/>
<circle cx="627.25" cy="59.30" r="1.5" fill="#fff" stroke="#333" stroke-width="0.55"/>
<circle cx="629.85" cy="66.00" r="1.5" fill="#fff" stroke="#333" stroke-width="0.55"/>
<rect x="636.00" y="79.80" width="8.00" height="39.40" fill="#dadada" stroke="#3a3a3a" stroke-width="0.6"/>
<line x1="640.00" y1="119.20" x2="640.00" y2="121.70" stroke="#666" stroke-width="0.7"/>
<circle cx="637.60" cy="79.80" r="1.5" fill="#fff" stroke="#333" stroke-width="0.55"/>
<circle cx="640.00" cy="78.30" r="1.5" fill="#fff" stroke="#333" stroke-width="0.55"/>
<circle cx="642.40" cy="79.30" r="1.5" fill="#fff" stroke="#333" stroke-width="0.55"/>
<rect x="648.20" y="82.00" width="8.00" height="37.20" fill="#a9a9a9" stroke="#3a3a3a" stroke-width="0.6"/>
<line x1="652.20" y1="119.20" x2="652.20" y2="121.70" stroke="#666" stroke-width="0.7"/>
<circle cx="649.80" cy="82.60" r="1.5" fill="#fff" stroke="#333" stroke-width="0.55"/>
<circle cx="652.20" cy="80.80" r="1.5" fill="#fff" stroke="#333" stroke-width="0.55"/>
<circle cx="654.60" cy="82.60" r="1.5" fill="#fff" stroke="#333" stroke-width="0.55"/>
<rect x="660.60" y="81.60" width="7.80" height="37.60" fill="#747474" stroke="#3a3a3a" stroke-width="0.6"/>
<line x1="664.50" y1="119.20" x2="664.50" y2="121.70" stroke="#666" stroke-width="0.7"/>
<circle cx="662.10" cy="81.80" r="1.5" fill="#fff" stroke="#333" stroke-width="0.55"/>
<circle cx="664.50" cy="80.60" r="1.5" fill="#fff" stroke="#333" stroke-width="0.55"/>
<circle cx="666.90" cy="81.60" r="1.5" fill="#fff" stroke="#333" stroke-width="0.55"/>
<rect x="673.00" y="80.20" width="8.00" height="39.00" fill="#221e1f" stroke="#3a3a3a" stroke-width="0.6"/>
<line x1="677.00" y1="119.20" x2="677.00" y2="121.70" stroke="#666" stroke-width="0.7"/>
<circle cx="674.60" cy="78.70" r="1.5" fill="#fff" stroke="#333" stroke-width="0.55"/>
<circle cx="677.00" cy="79.70" r="1.5" fill="#fff" stroke="#333" stroke-width="0.55"/>
<circle cx="679.40" cy="80.20" r="1.5" fill="#fff" stroke="#333" stroke-width="0.55"/>
<text x="0" y="0" font-size="8.4" text-anchor="middle" transform="translate(580.70,85.90) rotate(-90)" textLength="33" lengthAdjust="spacingAndGlyphs">PD-1 MFI</text>
<text x="629.00" y="20.20" font-size="7.0" textLength="35.20" lengthAdjust="spacingAndGlyphs">P = 0.0001</text>
<line x1="629.00" y1="23.10" x2="673.00" y2="23.10" stroke="#333" stroke-width="0.9"/>
<text x="629.00" y="31.70" font-size="7.0" textLength="35.20" lengthAdjust="spacingAndGlyphs">P &lt; 0.0001</text>
<line x1="629.00" y1="33.70" x2="661.60" y2="33.70" stroke="#555" stroke-width="0.9"/>
<text x="629.00" y="41.90" font-size="7.0" textLength="35.20" lengthAdjust="spacingAndGlyphs">P &lt; 0.0001</text>
<line x1="629.00" y1="43.30" x2="648.70" y2="43.30" stroke="#aaa" stroke-width="0.9"/>
<text x="629.00" y="51.70" font-size="7.0" textLength="35.20" lengthAdjust="spacingAndGlyphs">P = 0.0001</text>
<line x1="626.50" y1="53.40" x2="636.70" y2="53.40" stroke="#333" stroke-width="0.9"/>
<text x="630.55" y="129.60" font-size="7.4" text-anchor="end" transform="rotate(-45 630.55 129.60)">Control</text>
<text x="643.30" y="129.60" font-size="7.4" text-anchor="end" transform="rotate(-45 643.30 129.60)">DD–BACH2 0 nM</text>
<text x="655.50" y="129.60" font-size="7.4" text-anchor="end" transform="rotate(-45 655.50 129.60)">DD–BACH2 100 nM</text>
<text x="667.80" y="129.60" font-size="7.4" text-anchor="end" transform="rotate(-45 667.80 129.60)">DD–BACH2 1,000 nM</text>
<text x="680.30" y="129.60" font-size="7.4" text-anchor="end" transform="rotate(-45 680.30 129.60)">BACH2 OE</text>
<text x="1.90" y="197.60" font-size="12" fill="#111" font-weight="bold" stroke="#111" stroke-width="0.3">d</text>
<rect x="25.20" y="188.00" width="7.60" height="7.20" fill="#fff" stroke="#999" stroke-width="0.8"/>
<text x="39.00" y="194.60" font-size="7.4" textLength="25.40" lengthAdjust="spacingAndGlyphs">Control</text>
<rect x="25.20" y="199.20" width="7.60" height="7.20" fill="#6e6e6e" stroke="none" stroke-width="0.8"/>
<text x="39.00" y="206.20" font-size="7.4" textLength="71.00" lengthAdjust="spacingAndGlyphs">DD–BACH2 1,000 nM</text>
<rect x="25.20" y="211.60" width="7.60" height="7.20" fill="#231f20" stroke="none" stroke-width="0.8"/>
<text x="39.00" y="218.20" font-size="7.4" textLength="35.00" lengthAdjust="spacingAndGlyphs">BACH2 OE</text>
<path d="M25.00,315.40 L25.00,315.40 L27.00,314.80 L28.00,313.00 L29.00,309.00 L30.00,302.00 L31.00,290.00 L32.00,276.00 L33.00,260.00 L34.00,246.00 L35.00,236.00 L36.00,230.00 L37.00,228.00 L38.00,229.00 L39.00,234.00 L40.00,244.00 L41.00,254.00 L42.00,264.00 L43.00,274.00 L44.00,282.00 L45.00,289.00 L46.00,295.00 L48.00,302.00 L50.00,306.00 L52.00,309.00 L55.00,311.50 L60.00,313.00 L70.00,314.00 L80.00,314.60 L90.00,315.00 L119.50,315.40 L119.50,315.40 Z" fill="#9a9a9a" stroke="none" stroke-width="0.6" stroke-linejoin="round"/>
<path d="M25.00,315.40 L27.00,314.80 L28.00,313.00 L29.00,309.00 L30.00,302.00 L31.00,290.00 L32.00,276.00 L33.00,260.00 L34.00,246.00 L35.00,236.00 L36.00,230.00 L37.00,228.00 L38.00,229.00 L39.00,234.00 L40.00,244.00 L41.00,254.00 L42.00,264.00 L43.00,274.00 L44.00,282.00 L45.00,289.00 L46.00,295.00 L48.00,302.00 L50.00,306.00 L52.00,309.00 L55.00,311.50 L60.00,313.00 L70.00,314.00 L80.00,314.60 L90.00,315.00 L119.50,315.40" fill="none" stroke="#777" stroke-width="0.4" stroke-linejoin="round"/>
<path d="M25.00,315.40 L25.00,315.40 L27.00,314.80 L28.00,313.00 L29.00,308.00 L30.00,300.00 L31.00,288.00 L32.00,274.00 L33.00,258.00 L34.00,244.00 L35.00,234.00 L36.00,229.00 L37.00,228.50 L38.00,230.00 L39.00,236.00 L40.00,246.00 L41.00,256.00 L42.00,266.00 L43.00,276.00 L44.00,286.00 L45.00,294.00 L46.00,300.00 L48.00,306.00 L50.00,310.00 L52.00,312.50 L55.00,314.00 L60.00,315.00 L70.00,315.40 L70.00,315.40 Z" fill="#4a4a4a" stroke="none" stroke-width="0.6" stroke-linejoin="round"/>
<path d="M25.00,315.40 L27.00,314.80 L28.00,313.00 L29.00,308.00 L30.00,300.00 L31.00,288.00 L32.00,274.00 L33.00,258.00 L34.00,244.00 L35.00,234.00 L36.00,229.00 L37.00,228.50 L38.00,230.00 L39.00,236.00 L40.00,246.00 L41.00,256.00 L42.00,266.00 L43.00,276.00 L44.00,286.00 L45.00,294.00 L46.00,300.00 L48.00,306.00 L50.00,310.00 L52.00,312.50 L55.00,314.00 L60.00,315.00 L70.00,315.40" fill="none" stroke="#333" stroke-width="0.4" stroke-linejoin="round"/>
<path d="M25.00,314.00 L27.00,313.00 L29.00,310.00 L31.00,302.00 L33.00,288.00 L35.00,268.00 L36.00,256.00 L37.00,250.00 L38.00,247.00 L39.00,246.00 L40.00,247.50 L41.00,249.00 L42.00,252.00 L43.00,256.00 L44.00,260.00 L45.00,263.00 L46.00,262.00 L47.00,265.00 L48.00,265.00 L50.00,267.00 L52.00,270.00 L54.00,273.50 L55.00,271.00 L56.00,273.00 L58.00,269.00 L60.00,270.00 L62.00,266.00 L64.00,267.00 L66.00,263.00 L68.00,261.00 L69.50,257.00 L71.00,258.00 L73.00,256.00 L75.00,251.00 L76.00,253.00 L78.00,250.00 L79.50,247.00 L80.50,255.00 L82.00,247.00 L84.00,246.00 L86.00,247.00 L87.50,243.00 L89.00,249.00 L90.50,244.00 L92.00,248.00 L93.50,244.00 L95.00,250.00 L96.50,245.00 L98.00,248.00 L100.00,246.00 L101.00,253.00 L102.00,252.00 L103.00,256.00 L104.00,262.00 L105.00,270.00 L106.00,272.00 L107.00,280.00 L108.00,288.00 L110.00,295.00 L112.00,302.00 L114.00,307.00 L116.00,311.00 L117.50,313.00 L118.50,306.00 L119.50,298.00" fill="none" stroke="#222" stroke-width="0.55" stroke-linejoin="round"/>
<path d="M24.50,221.50 L119.50,221.50 L119.50,315.40" fill="none" stroke="#666" stroke-width="0.8"/>
<line x1="24.50" y1="221.50" x2="24.50" y2="315.40" stroke="#777" stroke-width="0.8"/>
<line x1="23.50" y1="315.40" x2="119.50" y2="315.40" stroke="#555" stroke-width="0.8"/>
<text x="17.80" y="228.40" font-size="7.0" text-anchor="end" textLength="12.45" lengthAdjust="spacingAndGlyphs">100</text>
<line x1="21.50" y1="226.00" x2="24.50" y2="226.00" stroke="#999" stroke-width="0.7"/>
<text x="17.80" y="246.28" font-size="7.0" text-anchor="end" textLength="8.30" lengthAdjust="spacingAndGlyphs">80</text>
<line x1="21.50" y1="243.88" x2="24.50" y2="243.88" stroke="#999" stroke-width="0.7"/>
<text x="17.80" y="264.16" font-size="7.0" text-anchor="end" textLength="8.30" lengthAdjust="spacingAndGlyphs">60</text>
<line x1="21.50" y1="261.76" x2="24.50" y2="261.76" stroke="#999" stroke-width="0.7"/>
<text x="17.80" y="282.04" font-size="7.0" text-anchor="end" textLength="8.30" lengthAdjust="spacingAndGlyphs">40</text>
<line x1="21.50" y1="279.64" x2="24.50" y2="279.64" stroke="#999" stroke-width="0.7"/>
<text x="17.80" y="299.92" font-size="7.0" text-anchor="end" textLength="8.30" lengthAdjust="spacingAndGlyphs">20</text>
<line x1="21.50" y1="297.52" x2="24.50" y2="297.52" stroke="#999" stroke-width="0.7"/>
<text x="17.80" y="317.80" font-size="7.0" text-anchor="end" textLength="4.15" lengthAdjust="spacingAndGlyphs">0</text>
<line x1="21.50" y1="315.40" x2="24.50" y2="315.40" stroke="#999" stroke-width="0.7"/>
<line x1="23.30" y1="230.47" x2="24.50" y2="230.47" stroke="#333" stroke-width="0.6"/>
<line x1="23.30" y1="234.94" x2="24.50" y2="234.94" stroke="#333" stroke-width="0.6"/>
<line x1="23.30" y1="239.41" x2="24.50" y2="239.41" stroke="#333" stroke-width="0.6"/>
<line x1="23.30" y1="248.35" x2="24.50" y2="248.35" stroke="#333" stroke-width="0.6"/>
<line x1="23.30" y1="252.82" x2="24.50" y2="252.82" stroke="#333" stroke-width="0.6"/>
<line x1="23.30" y1="257.29" x2="24.50" y2="257.29" stroke="#333" stroke-width="0.6"/>
<line x1="23.30" y1="266.23" x2="24.50" y2="266.23" stroke="#333" stroke-width="0.6"/>
<line x1="23.30" y1="270.70" x2="24.50" y2="270.70" stroke="#333" stroke-width="0.6"/>
<line x1="23.30" y1="275.17" x2="24.50" y2="275.17" stroke="#333" stroke-width="0.6"/>
<line x1="23.30" y1="284.11" x2="24.50" y2="284.11" stroke="#333" stroke-width="0.6"/>
<line x1="23.30" y1="288.58" x2="24.50" y2="288.58" stroke="#333" stroke-width="0.6"/>
<line x1="23.30" y1="293.05" x2="24.50" y2="293.05" stroke="#333" stroke-width="0.6"/>
<line x1="23.30" y1="301.99" x2="24.50" y2="301.99" stroke="#333" stroke-width="0.6"/>
<line x1="23.30" y1="306.46" x2="24.50" y2="306.46" stroke="#333" stroke-width="0.6"/>
<line x1="23.30" y1="310.93" x2="24.50" y2="310.93" stroke="#333" stroke-width="0.6"/>
<text x="33.00" y="329.80" font-size="7.4" text-anchor="middle" textLength="4.20" lengthAdjust="spacingAndGlyphs">0</text>
<text x="69.20" y="329.80" font-size="7.4" text-anchor="middle" textLength="8.00" lengthAdjust="spacingAndGlyphs">10</text>
<text x="73.30" y="326.40" font-size="4.6">4</text>
<text x="102.20" y="329.80" font-size="7.4" text-anchor="middle" textLength="8.00" lengthAdjust="spacingAndGlyphs">10</text>
<text x="106.30" y="326.40" font-size="4.6">5</text>
<text x="47.30" y="341.90" font-size="8.5" textLength="50.10" lengthAdjust="spacingAndGlyphs">TIM3–PE-Cy7</text>
<line x1="33.00" y1="315.40" x2="33.00" y2="317.90" stroke="#555" stroke-width="0.7"/>
<line x1="69.70" y1="315.40" x2="69.70" y2="317.90" stroke="#555" stroke-width="0.7"/>
<line x1="102.70" y1="315.40" x2="102.70" y2="317.90" stroke="#555" stroke-width="0.7"/>
<line x1="79.63" y1="315.40" x2="79.63" y2="316.90" stroke="#555" stroke-width="0.4"/>
<line x1="46.63" y1="315.40" x2="46.63" y2="316.90" stroke="#555" stroke-width="0.4"/>
<line x1="112.63" y1="315.40" x2="112.63" y2="316.90" stroke="#555" stroke-width="0.4"/>
<line x1="85.45" y1="315.40" x2="85.45" y2="316.90" stroke="#555" stroke-width="0.4"/>
<line x1="52.45" y1="315.40" x2="52.45" y2="316.90" stroke="#555" stroke-width="0.4"/>
<line x1="118.45" y1="315.40" x2="118.45" y2="316.90" stroke="#555" stroke-width="0.4"/>
<line x1="89.57" y1="315.40" x2="89.57" y2="316.90" stroke="#555" stroke-width="0.4"/>
<line x1="56.57" y1="315.40" x2="56.57" y2="316.90" stroke="#555" stroke-width="0.4"/>
<line x1="92.77" y1="315.40" x2="92.77" y2="316.90" stroke="#555" stroke-width="0.4"/>
<line x1="59.77" y1="315.40" x2="59.77" y2="316.90" stroke="#555" stroke-width="0.4"/>
<line x1="95.38" y1="315.40" x2="95.38" y2="316.90" stroke="#555" stroke-width="0.4"/>
<line x1="62.38" y1="315.40" x2="62.38" y2="316.90" stroke="#555" stroke-width="0.4"/>
<line x1="97.59" y1="315.40" x2="97.59" y2="316.90" stroke="#555" stroke-width="0.4"/>
<line x1="64.59" y1="315.40" x2="64.59" y2="316.90" stroke="#555" stroke-width="0.4"/>
<line x1="99.50" y1="315.40" x2="99.50" y2="316.90" stroke="#555" stroke-width="0.4"/>
<line x1="66.50" y1="315.40" x2="66.50" y2="316.90" stroke="#555" stroke-width="0.4"/>
<line x1="101.19" y1="315.40" x2="101.19" y2="316.90" stroke="#555" stroke-width="0.4"/>
<line x1="68.19" y1="315.40" x2="68.19" y2="316.90" stroke="#555" stroke-width="0.4"/>
<line x1="159.40" y1="232.20" x2="159.40" y2="298.30" stroke="#888" stroke-width="0.8"/>
<text x="150.20" y="300.90" font-size="7.2" text-anchor="end" textLength="7.60" lengthAdjust="spacingAndGlyphs">10</text>
<text x="150.50" y="297.30" font-size="4.6">2</text>
<line x1="156.80" y1="298.30" x2="159.40" y2="298.30" stroke="#888" stroke-width="0.8"/>
<text x="150.20" y="278.90" font-size="7.2" text-anchor="end" textLength="7.60" lengthAdjust="spacingAndGlyphs">10</text>
<text x="150.50" y="275.30" font-size="4.6">3</text>
<line x1="156.80" y1="276.30" x2="159.40" y2="276.30" stroke="#888" stroke-width="0.8"/>
<text x="150.20" y="256.90" font-size="7.2" text-anchor="end" textLength="7.60" lengthAdjust="spacingAndGlyphs">10</text>
<text x="150.50" y="253.30" font-size="4.6">4</text>
<line x1="156.80" y1="254.30" x2="159.40" y2="254.30" stroke="#888" stroke-width="0.8"/>
<text x="150.20" y="234.90" font-size="7.2" text-anchor="end" textLength="7.60" lengthAdjust="spacingAndGlyphs">10</text>
<text x="150.50" y="231.30" font-size="4.6">5</text>
<line x1="156.80" y1="232.30" x2="159.40" y2="232.30" stroke="#888" stroke-width="0.8"/>
<line x1="154.50" y1="298.30" x2="225.60" y2="298.30" stroke="#666" stroke-width="0.8"/>
<rect x="164.30" y="244.40" width="7.60" height="53.90" fill="#ffffff" stroke="#3a3a3a" stroke-width="0.6"/>
<line x1="168.10" y1="298.30" x2="168.10" y2="300.80" stroke="#666" stroke-width="0.7"/>
<circle cx="165.70" cy="245.40" r="1.4" fill="#fff" stroke="#333" stroke-width="0.55"/>
<circle cx="168.10" cy="243.40" r="1.4" fill="#fff" stroke="#333" stroke-width="0.55"/>
<circle cx="170.50" cy="244.90" r="1.4" fill="#fff" stroke="#333" stroke-width="0.55"/>
<rect x="176.50" y="259.40" width="7.60" height="38.90" fill="#dadada" stroke="#3a3a3a" stroke-width="0.6"/>
<line x1="180.30" y1="298.30" x2="180.30" y2="300.80" stroke="#666" stroke-width="0.7"/>
<circle cx="177.90" cy="259.70" r="1.4" fill="#fff" stroke="#333" stroke-width="0.55"/>
<circle cx="180.30" cy="259.40" r="1.4" fill="#fff" stroke="#333" stroke-width="0.55"/>
<circle cx="182.70" cy="259.40" r="1.4" fill="#fff" stroke="#333" stroke-width="0.55"/>
<rect x="188.80" y="266.00" width="7.70" height="32.30" fill="#a9a9a9" stroke="#3a3a3a" stroke-width="0.6"/>
<line x1="192.65" y1="298.30" x2="192.65" y2="300.80" stroke="#666" stroke-width="0.7"/>
<circle cx="190.25" cy="266.00" r="1.4" fill="#fff" stroke="#333" stroke-width="0.55"/>
<circle cx="192.65" cy="267.00" r="1.4" fill="#fff" stroke="#333" stroke-width="0.55"/>
<circle cx="195.05" cy="265.50" r="1.4" fill="#fff" stroke="#333" stroke-width="0.55"/>
<rect x="201.40" y="268.00" width="7.40" height="30.30" fill="#747474" stroke="#3a3a3a" stroke-width="0.6"/>
<line x1="205.10" y1="298.30" x2="205.10" y2="300.80" stroke="#666" stroke-width="0.7"/>
<circle cx="202.70" cy="268.00" r="1.4" fill="#fff" stroke="#333" stroke-width="0.55"/>
<circle cx="205.10" cy="271.00" r="1.4" fill="#fff" stroke="#333" stroke-width="0.55"/>
<circle cx="207.50" cy="268.80" r="1.4" fill="#fff" stroke="#333" stroke-width="0.55"/>
<rect x="213.80" y="272.20" width="7.40" height="26.10" fill="#221e1f" stroke="#3a3a3a" stroke-width="0.6"/>
<line x1="217.50" y1="298.30" x2="217.50" y2="300.80" stroke="#666" stroke-width="0.7"/>
<circle cx="215.10" cy="272.70" r="1.4" fill="#fff" stroke="#333" stroke-width="0.55"/>
<circle cx="217.50" cy="271.20" r="1.4" fill="#fff" stroke="#333" stroke-width="0.55"/>
<circle cx="219.90" cy="272.70" r="1.4" fill="#fff" stroke="#333" stroke-width="0.55"/>
<text x="0" y="0" font-size="9.6" text-anchor="middle" transform="translate(136.50,265.40) rotate(-90)" textLength="36.5" lengthAdjust="spacingAndGlyphs">TIM3 MFI</text>
<text x="170.40" y="200.80" font-size="7.0" textLength="35.20" lengthAdjust="spacingAndGlyphs"><tspan font-style="italic">P</tspan> &lt; 0.0001</text>
<line x1="169.00" y1="202.70" x2="214.10" y2="202.70" stroke="#333" stroke-width="0.9"/>
<text x="170.40" y="210.00" font-size="7.0" textLength="35.20" lengthAdjust="spacingAndGlyphs"><tspan font-style="italic">P</tspan> &lt; 0.0001</text>
<line x1="169.00" y1="212.40" x2="201.80" y2="212.40" stroke="#555" stroke-width="0.9"/>
<text x="170.40" y="220.40" font-size="7.0" textLength="35.20" lengthAdjust="spacingAndGlyphs"><tspan font-style="italic">P</tspan> &lt; 0.0001</text>
<line x1="169.80" y1="221.60" x2="188.80" y2="221.60" stroke="#aaa" stroke-width="0.9"/>
<text x="164.10" y="230.30" font-size="7.0" textLength="35.20" lengthAdjust="spacingAndGlyphs"><tspan font-style="italic">P</tspan> &lt; 0.0001</text>
<line x1="166.60" y1="232.20" x2="177.40" y2="232.20" stroke="#333" stroke-width="0.9"/>
<text x="171.40" y="308.50" font-size="7.4" text-anchor="end" transform="rotate(-45 171.40 308.50)">Control</text>
<text x="183.60" y="308.50" font-size="7.4" text-anchor="end" transform="rotate(-45 183.60 308.50)">DD–BACH2 0 nM</text>
<text x="195.95" y="308.50" font-size="7.4" text-anchor="end" transform="rotate(-45 195.95 308.50)">DD–BACH2 100 nM</text>
<text x="208.40" y="308.50" font-size="7.4" text-anchor="end" transform="rotate(-45 208.40 308.50)">DD–BACH2 1,000 nM</text>
<text x="220.80" y="308.50" font-size="7.4" text-anchor="end" transform="rotate(-45 220.80 308.50)">BACH2 OE</text>
<text x="253.20" y="198.40" font-size="12" fill="#111" font-weight="bold" stroke="#111" stroke-width="0.3">e</text>
<ellipse cx="339.3" cy="254.8" rx="83.2" ry="66" fill="#fff" stroke="#7a7a7a" stroke-width="0.7"/>
<ellipse cx="364.6" cy="280.6" rx="41" ry="31" fill="#d4e7eb" stroke="#a9cde3" stroke-width="1.1"/>
<path d="M316,214.4 L329,214.4 Q330.5,214.4 330.5,216 L330.5,220.5 Q330.5,224.4 326.5,224.4 L324.8,224.4 A2.7,2.7 0 0 0 319.4,224 Q317.5,223.2 316.3,221.5 Q314.5,219 314.5,216 Q314.5,214.4 316,214.4 Z" fill="#7dbb9f"/>
<rect x="294.7" y="222.6" width="24.5" height="10.9" rx="5.4" fill="#1f62a0" stroke="#1a4e7c" stroke-width="0.6"/>
<text x="306.80" y="231.50" font-size="6.1" text-anchor="middle" fill="#e8eef6" stroke="none" textLength="18.20" lengthAdjust="spacingAndGlyphs">BACH2</text>
<text x="318.80" y="220.80" font-size="6.0" fill="#e6f3ed" stroke="none" textLength="7.00" lengthAdjust="spacingAndGlyphs">ER</text>
<text x="325.90" y="217.40" font-size="3.2" fill="#e6f3ed" stroke="none">T2</text>
<circle cx="345.6" cy="228.6" r="3.1" fill="#eda06c"/>
<circle cx="353" cy="234.4" r="3.1" fill="#eda06c"/>
<circle cx="337" cy="235.6" r="3.1" fill="#eda06c"/>
<circle cx="343.4" cy="242" r="3.1" fill="#eda06c"/>
<text x="349.50" y="226.20" font-size="8.3" textLength="21.80" lengthAdjust="spacingAndGlyphs">4-OHT</text>
<path d="M330,224.6 Q352,232 357.4,262" fill="none" stroke="#222" stroke-width="0.7"/>
<path d="M357.6,265.4 L355.7,260.8 L359.3,260.6 Z" fill="#222"/>
<path d="M365.5,266.5 L378,266.5 Q379.6,266.5 379.6,268 L379.6,271 Q379.6,276.3 375,276.3 L374.3,276.3 A2.9,2.9 0 0 0 368.6,275 Q366,274.5 364.8,272.5 Q363.8,270.5 363.8,268 Q363.8,266.5 365.5,266.5 Z" fill="#7dbb9f"/>
<text x="367.40" y="271.70" font-size="6.0" fill="#e6f3ed" stroke="none" textLength="6.80" lengthAdjust="spacingAndGlyphs">ER</text>
<text x="374.40" y="268.40" font-size="3.2" fill="#e6f3ed" stroke="none">T2</text>
<circle cx="371.5" cy="275.4" r="2.8" fill="#eda06c"/>
<line x1="345.50" y1="287.00" x2="345.50" y2="293.00" stroke="#d9a3a8" stroke-width="0.6"/>
<line x1="348.35" y1="287.00" x2="348.35" y2="293.00" stroke="#9fc3dd" stroke-width="0.6"/>
<line x1="351.20" y1="287.00" x2="351.20" y2="293.00" stroke="#e6b9bd" stroke-width="0.6"/>
<line x1="354.05" y1="287.00" x2="354.05" y2="293.00" stroke="#d9a3a8" stroke-width="0.6"/>
<line x1="356.90" y1="287.00" x2="356.90" y2="293.00" stroke="#9fc3dd" stroke-width="0.6"/>
<line x1="359.75" y1="287.00" x2="359.75" y2="293.00" stroke="#e6b9bd" stroke-width="0.6"/>
<line x1="362.60" y1="287.00" x2="362.60" y2="293.00" stroke="#d9a3a8" stroke-width="0.6"/>
<line x1="365.45" y1="287.00" x2="365.45" y2="293.00" stroke="#9fc3dd" stroke-width="0.6"/>
<line x1="368.30" y1="287.00" x2="368.30" y2="293.00" stroke="#e6b9bd" stroke-width="0.6"/>
<line x1="371.15" y1="287.00" x2="371.15" y2="293.00" stroke="#d9a3a8" stroke-width="0.6"/>
<line x1="374.00" y1="287.00" x2="374.00" y2="293.00" stroke="#9fc3dd" stroke-width="0.6"/>
<line x1="376.85" y1="287.00" x2="376.85" y2="293.00" stroke="#e6b9bd" stroke-width="0.6"/>
<line x1="379.70" y1="287.00" x2="379.70" y2="293.00" stroke="#d9a3a8" stroke-width="0.6"/>
<line x1="382.55" y1="287.00" x2="382.55" y2="293.00" stroke="#9fc3dd" stroke-width="0.6"/>
<line x1="385.40" y1="287.00" x2="385.40" y2="293.00" stroke="#e6b9bd" stroke-width="0.6"/>
<line x1="388.25" y1="287.00" x2="388.25" y2="293.00" stroke="#d9a3a8" stroke-width="0.6"/>
<line x1="391.10" y1="287.00" x2="391.10" y2="293.00" stroke="#9fc3dd" stroke-width="0.6"/>
<path d="M344.20,294.00 L344.60,293.98 L345.01,293.91 L345.41,293.79 L345.82,293.63 L346.22,293.42 L346.63,293.18 L347.03,292.90 L347.44,292.58 L347.84,292.23 L348.25,291.86 L348.65,291.46 L349.06,291.05 L349.46,290.63 L349.87,290.19 L350.27,289.76 L350.68,289.33 L351.08,288.90 L351.49,288.49 L351.89,288.10 L352.30,287.73 L352.70,287.38 L353.11,287.07 L353.51,286.79 L353.92,286.55 L354.32,286.35 L354.73,286.20 L355.13,286.08 L355.54,286.02 L355.94,286.00 L356.35,286.03 L356.75,286.10 L357.16,286.23 L357.56,286.39 L357.97,286.60 L358.38,286.85 L358.78,287.14 L359.19,287.46 L359.59,287.81 L360.00,288.18 L360.40,288.58 L360.81,289.00 L361.21,289.42 L361.62,289.86 L362.02,290.29 L362.43,290.72 L362.83,291.14 L363.24,291.55 L363.64,291.94 L364.05,292.31 L364.45,292.65 L364.86,292.96 L365.26,293.24 L365.67,293.47 L366.07,293.67 L366.48,293.82 L366.88,293.93 L367.29,293.99 L367.69,294.00 L368.10,293.96 L368.50,293.88 L368.90,293.76 L369.31,293.59 L369.71,293.37 L370.12,293.12 L370.52,292.83 L370.93,292.50 L371.33,292.15 L371.74,291.77 L372.14,291.37 L372.55,290.96 L372.95,290.53 L373.36,290.10 L373.76,289.66 L374.17,289.23 L374.57,288.81 L374.98,288.40 L375.38,288.01 L375.79,287.65 L376.19,287.31 L376.60,287.01 L377.00,286.74 L377.41,286.50 L377.81,286.31 L378.22,286.17 L378.62,286.07 L379.03,286.01 L379.44,286.00 L379.84,286.04 L380.25,286.13 L380.65,286.26 L381.06,286.44 L381.46,286.65 L381.87,286.91 L382.27,287.21 L382.68,287.53 L383.08,287.89 L383.49,288.27 L383.89,288.67 L384.30,289.09 L384.70,289.52 L385.11,289.95 L385.51,290.39 L385.92,290.82 L386.32,291.24 L386.73,291.64 L387.13,292.03 L387.54,292.39 L387.94,292.72 L388.35,293.03 L388.75,293.29 L389.16,293.52 L389.56,293.70 L389.97,293.85 L390.37,293.94 L390.78,293.99 L391.18,294.00 L391.59,293.95 L391.99,293.86 L392.39,293.72 L392.80,293.54" fill="none" stroke="#2a6aa8" stroke-width="1.2" stroke-linejoin="round"/>
<path d="M344.20,286.00 L344.60,286.02 L345.01,286.09 L345.41,286.21 L345.82,286.37 L346.22,286.58 L346.63,286.82 L347.03,287.10 L347.44,287.42 L347.84,287.77 L348.25,288.14 L348.65,288.54 L349.06,288.95 L349.46,289.37 L349.87,289.81 L350.27,290.24 L350.68,290.67 L351.08,291.10 L351.49,291.51 L351.89,291.90 L352.30,292.27 L352.70,292.62 L353.11,292.93 L353.51,293.21 L353.92,293.45 L354.32,293.65 L354.73,293.80 L355.13,293.92 L355.54,293.98 L355.94,294.00 L356.35,293.97 L356.75,293.90 L357.16,293.77 L357.56,293.61 L357.97,293.40 L358.38,293.15 L358.78,292.86 L359.19,292.54 L359.59,292.19 L360.00,291.82 L360.40,291.42 L360.81,291.00 L361.21,290.58 L361.62,290.14 L362.02,289.71 L362.43,289.28 L362.83,288.86 L363.24,288.45 L363.64,288.06 L364.05,287.69 L364.45,287.35 L364.86,287.04 L365.26,286.76 L365.67,286.53 L366.07,286.33 L366.48,286.18 L366.88,286.07 L367.29,286.01 L367.69,286.00 L368.10,286.04 L368.50,286.12 L368.90,286.24 L369.31,286.41 L369.71,286.63 L370.12,286.88 L370.52,287.17 L370.93,287.50 L371.33,287.85 L371.74,288.23 L372.14,288.63 L372.55,289.04 L372.95,289.47 L373.36,289.90 L373.76,290.34 L374.17,290.77 L374.57,291.19 L374.98,291.60 L375.38,291.99 L375.79,292.35 L376.19,292.69 L376.60,292.99 L377.00,293.26 L377.41,293.50 L377.81,293.69 L378.22,293.83 L378.62,293.93 L379.03,293.99 L379.44,294.00 L379.84,293.96 L380.25,293.87 L380.65,293.74 L381.06,293.56 L381.46,293.35 L381.87,293.09 L382.27,292.79 L382.68,292.47 L383.08,292.11 L383.49,291.73 L383.89,291.33 L384.30,290.91 L384.70,290.48 L385.11,290.05 L385.51,289.61 L385.92,289.18 L386.32,288.76 L386.73,288.36 L387.13,287.97 L387.54,287.61 L387.94,287.28 L388.35,286.97 L388.75,286.71 L389.16,286.48 L389.56,286.30 L389.97,286.15 L390.37,286.06 L390.78,286.01 L391.18,286.00 L391.59,286.05 L391.99,286.14 L392.39,286.28 L392.80,286.46" fill="none" stroke="#d1343f" stroke-width="1.2" stroke-linejoin="round"/>
<rect x="343.6" y="274.5" width="24.3" height="10.8" rx="5.4" fill="#2466a2" stroke="#1c5282" stroke-width="0.6"/>
<text x="355.60" y="283.30" font-size="6.1" text-anchor="middle" fill="#e8eef6" stroke="none" textLength="18.60" lengthAdjust="spacingAndGlyphs">BACH2</text>
<path d="M382.3,289.9 L382.3,273.6 L393.3,273.6" fill="none" stroke="#2d8cb8" stroke-width="0.8"/>
<path d="M396.2,273.6 L392.6,271.8 L392.6,275.4 Z" fill="#2d8cb8"/>
<text x="355.00" y="306.00" font-size="7.6" textLength="27.00" lengthAdjust="spacingAndGlyphs">Nucleus</text>
<text x="281.40" y="298.20" font-size="7.8" textLength="35.60" lengthAdjust="spacingAndGlyphs">Cytoplasm</text>
<text x="440.20" y="197.60" font-size="12" fill="#111" font-weight="bold" stroke="#111" stroke-width="0.3">f</text>
<rect x="460.40" y="198.00" width="8.20" height="7.40" fill="#fff" stroke="#999" stroke-width="0.8"/>
<text x="474.40" y="204.20" font-size="7.4" textLength="24.60" lengthAdjust="spacingAndGlyphs">Control</text>
<rect x="460.40" y="210.60" width="8.20" height="7.40" fill="#6e6e6e" stroke="none" stroke-width="0.8"/>
<text x="474.40" y="217.20" font-size="7.4" textLength="34.00" lengthAdjust="spacingAndGlyphs">BACH2-ER</text>
<text x="508.70" y="214.00" font-size="4.2">T2</text>
<path d="M462.00,316.00 L462.00,316.00 L466.00,315.50 L468.00,314.00 L470.00,308.00 L472.00,298.00 L474.00,288.00 L476.00,278.00 L478.00,266.00 L480.00,255.00 L482.00,245.00 L484.00,236.00 L485.00,234.00 L486.00,229.00 L487.00,232.00 L488.00,238.00 L489.00,244.00 L490.00,248.00 L491.00,255.00 L492.00,262.00 L493.00,270.00 L494.00,278.00 L495.00,285.00 L496.00,292.00 L497.00,295.00 L498.00,296.00 L500.00,298.00 L502.00,300.00 L504.00,300.00 L506.00,301.00 L508.00,301.00 L510.00,302.00 L512.00,302.00 L514.00,302.00 L516.00,302.00 L518.00,303.00 L520.00,303.00 L522.00,304.00 L524.00,304.00 L526.00,305.00 L528.00,305.00 L530.00,306.00 L532.00,307.00 L534.00,308.00 L536.00,309.00 L538.00,310.00 L540.00,312.00 L542.00,313.00 L544.00,314.00 L546.00,315.00 L550.00,315.60 L555.60,316.00 L555.60,316.00 Z" fill="#c9c9c9" stroke="none" stroke-width="0.6" stroke-linejoin="round"/>
<path d="M462.00,316.00 L466.00,315.50 L468.00,314.00 L470.00,308.00 L472.00,298.00 L474.00,288.00 L476.00,278.00 L478.00,266.00 L480.00,255.00 L482.00,245.00 L484.00,236.00 L485.00,234.00 L486.00,229.00 L487.00,232.00 L488.00,238.00 L489.00,244.00 L490.00,248.00 L491.00,255.00 L492.00,262.00 L493.00,270.00 L494.00,278.00 L495.00,285.00 L496.00,292.00 L497.00,295.00 L498.00,296.00 L500.00,298.00 L502.00,300.00 L504.00,300.00 L506.00,301.00 L508.00,301.00 L510.00,302.00 L512.00,302.00 L514.00,302.00 L516.00,302.00 L518.00,303.00 L520.00,303.00 L522.00,304.00 L524.00,304.00 L526.00,305.00 L528.00,305.00 L530.00,306.00 L532.00,307.00 L534.00,308.00 L536.00,309.00 L538.00,310.00 L540.00,312.00 L542.00,313.00 L544.00,314.00 L546.00,315.00 L550.00,315.60 L555.60,316.00" fill="none" stroke="#444" stroke-width="0.55" stroke-linejoin="round"/>
<path d="M460.60,298.00 L461.50,312.00 L463.00,315.00 L465.00,314.00 L467.00,311.00 L469.00,305.00 L471.00,296.00 L473.00,286.00 L475.00,276.00 L477.00,265.00 L479.00,254.00 L481.00,244.00 L483.00,236.00 L485.00,232.00 L486.00,230.00 L487.00,233.00 L488.00,240.00 L489.00,246.00 L490.00,252.00 L491.00,258.00 L492.00,266.00 L493.00,274.00 L494.00,282.00 L495.00,289.00 L496.00,294.00 L497.00,298.00 L498.00,300.00 L500.00,304.00 L502.00,305.00 L504.00,306.00 L506.00,306.00 L508.00,307.00 L510.00,307.00 L512.00,307.00 L514.00,308.00 L516.00,308.00 L518.00,308.00 L520.00,309.00 L522.00,310.00 L524.00,310.00 L526.00,311.00 L528.00,311.00 L530.00,312.00 L532.00,312.00 L534.00,313.00 L536.00,313.00 L538.00,314.00 L540.00,314.40 L544.00,315.00 L550.00,315.60 L555.60,316.00" fill="none" stroke="#333" stroke-width="0.55" stroke-linejoin="round"/>
<path d="M460.70,221.70 L555.60,221.70 L555.60,316.00" fill="none" stroke="#666" stroke-width="0.8"/>
<line x1="460.70" y1="221.70" x2="460.70" y2="316.00" stroke="#c4c4c4" stroke-width="1.8"/>
<line x1="459.70" y1="316.00" x2="555.60" y2="316.00" stroke="#555" stroke-width="0.8"/>
<text x="454.00" y="228.80" font-size="7.0" text-anchor="end" textLength="12.45" lengthAdjust="spacingAndGlyphs">100</text>
<line x1="457.70" y1="226.40" x2="460.70" y2="226.40" stroke="#999" stroke-width="0.7"/>
<text x="454.00" y="246.72" font-size="7.0" text-anchor="end" textLength="8.30" lengthAdjust="spacingAndGlyphs">80</text>
<line x1="457.70" y1="244.32" x2="460.70" y2="244.32" stroke="#999" stroke-width="0.7"/>
<text x="454.00" y="264.64" font-size="7.0" text-anchor="end" textLength="8.30" lengthAdjust="spacingAndGlyphs">60</text>
<line x1="457.70" y1="262.24" x2="460.70" y2="262.24" stroke="#999" stroke-width="0.7"/>
<text x="454.00" y="282.56" font-size="7.0" text-anchor="end" textLength="8.30" lengthAdjust="spacingAndGlyphs">40</text>
<line x1="457.70" y1="280.16" x2="460.70" y2="280.16" stroke="#999" stroke-width="0.7"/>
<text x="454.00" y="300.48" font-size="7.0" text-anchor="end" textLength="8.30" lengthAdjust="spacingAndGlyphs">20</text>
<line x1="457.70" y1="298.08" x2="460.70" y2="298.08" stroke="#999" stroke-width="0.7"/>
<text x="454.00" y="318.40" font-size="7.0" text-anchor="end" textLength="4.15" lengthAdjust="spacingAndGlyphs">0</text>
<line x1="457.70" y1="316.00" x2="460.70" y2="316.00" stroke="#999" stroke-width="0.7"/>
<line x1="459.50" y1="230.88" x2="460.70" y2="230.88" stroke="#333" stroke-width="0.6"/>
<line x1="459.50" y1="235.36" x2="460.70" y2="235.36" stroke="#333" stroke-width="0.6"/>
<line x1="459.50" y1="239.84" x2="460.70" y2="239.84" stroke="#333" stroke-width="0.6"/>
<line x1="459.50" y1="248.80" x2="460.70" y2="248.80" stroke="#333" stroke-width="0.6"/>
<line x1="459.50" y1="253.28" x2="460.70" y2="253.28" stroke="#333" stroke-width="0.6"/>
<line x1="459.50" y1="257.76" x2="460.70" y2="257.76" stroke="#333" stroke-width="0.6"/>
<line x1="459.50" y1="266.72" x2="460.70" y2="266.72" stroke="#333" stroke-width="0.6"/>
<line x1="459.50" y1="271.20" x2="460.70" y2="271.20" stroke="#333" stroke-width="0.6"/>
<line x1="459.50" y1="275.68" x2="460.70" y2="275.68" stroke="#333" stroke-width="0.6"/>
<line x1="459.50" y1="284.64" x2="460.70" y2="284.64" stroke="#333" stroke-width="0.6"/>
<line x1="459.50" y1="289.12" x2="460.70" y2="289.12" stroke="#333" stroke-width="0.6"/>
<line x1="459.50" y1="293.60" x2="460.70" y2="293.60" stroke="#333" stroke-width="0.6"/>
<line x1="459.50" y1="302.56" x2="460.70" y2="302.56" stroke="#333" stroke-width="0.6"/>
<line x1="459.50" y1="307.04" x2="460.70" y2="307.04" stroke="#333" stroke-width="0.6"/>
<line x1="459.50" y1="311.52" x2="460.70" y2="311.52" stroke="#333" stroke-width="0.6"/>
<text x="469.10" y="328.60" font-size="7.4" text-anchor="middle" textLength="4.20" lengthAdjust="spacingAndGlyphs">0</text>
<text x="505.00" y="328.60" font-size="7.4" text-anchor="middle" textLength="8.00" lengthAdjust="spacingAndGlyphs">10</text>
<text x="509.10" y="325.20" font-size="4.6">4</text>
<text x="538.70" y="328.60" font-size="7.4" text-anchor="middle" textLength="8.00" lengthAdjust="spacingAndGlyphs">10</text>
<text x="542.80" y="325.20" font-size="4.6">5</text>
<text x="480.80" y="341.90" font-size="8.5" textLength="54.70" lengthAdjust="spacingAndGlyphs">CD62L-BV421</text>
<line x1="469.10" y1="316.00" x2="469.10" y2="318.50" stroke="#555" stroke-width="0.7"/>
<line x1="505.50" y1="316.00" x2="505.50" y2="318.50" stroke="#555" stroke-width="0.7"/>
<line x1="539.20" y1="316.00" x2="539.20" y2="318.50" stroke="#555" stroke-width="0.7"/>
<line x1="515.64" y1="316.00" x2="515.64" y2="317.50" stroke="#555" stroke-width="0.4"/>
<line x1="481.94" y1="316.00" x2="481.94" y2="317.50" stroke="#555" stroke-width="0.4"/>
<line x1="549.34" y1="316.00" x2="549.34" y2="317.50" stroke="#555" stroke-width="0.4"/>
<line x1="521.58" y1="316.00" x2="521.58" y2="317.50" stroke="#555" stroke-width="0.4"/>
<line x1="487.88" y1="316.00" x2="487.88" y2="317.50" stroke="#555" stroke-width="0.4"/>
<line x1="555.28" y1="316.00" x2="555.28" y2="317.50" stroke="#555" stroke-width="0.4"/>
<line x1="525.79" y1="316.00" x2="525.79" y2="317.50" stroke="#555" stroke-width="0.4"/>
<line x1="492.09" y1="316.00" x2="492.09" y2="317.50" stroke="#555" stroke-width="0.4"/>
<line x1="529.06" y1="316.00" x2="529.06" y2="317.50" stroke="#555" stroke-width="0.4"/>
<line x1="495.36" y1="316.00" x2="495.36" y2="317.50" stroke="#555" stroke-width="0.4"/>
<line x1="531.72" y1="316.00" x2="531.72" y2="317.50" stroke="#555" stroke-width="0.4"/>
<line x1="498.02" y1="316.00" x2="498.02" y2="317.50" stroke="#555" stroke-width="0.4"/>
<line x1="533.98" y1="316.00" x2="533.98" y2="317.50" stroke="#555" stroke-width="0.4"/>
<line x1="500.28" y1="316.00" x2="500.28" y2="317.50" stroke="#555" stroke-width="0.4"/>
<line x1="535.93" y1="316.00" x2="535.93" y2="317.50" stroke="#555" stroke-width="0.4"/>
<line x1="502.23" y1="316.00" x2="502.23" y2="317.50" stroke="#555" stroke-width="0.4"/>
<line x1="537.66" y1="316.00" x2="537.66" y2="317.50" stroke="#555" stroke-width="0.4"/>
<line x1="503.96" y1="316.00" x2="503.96" y2="317.50" stroke="#555" stroke-width="0.4"/>
<line x1="606.50" y1="219.30" x2="606.50" y2="299.10" stroke="#888" stroke-width="0.8"/>
<text x="599.20" y="301.70" font-size="7.2" text-anchor="end" textLength="4.45" lengthAdjust="spacingAndGlyphs">0</text>
<line x1="603.90" y1="299.10" x2="606.50" y2="299.10" stroke="#888" stroke-width="0.8"/>
<text x="599.20" y="275.10" font-size="7.2" text-anchor="end" textLength="8.90" lengthAdjust="spacingAndGlyphs">10</text>
<line x1="603.90" y1="272.50" x2="606.50" y2="272.50" stroke="#888" stroke-width="0.8"/>
<text x="599.20" y="248.50" font-size="7.2" text-anchor="end" textLength="8.90" lengthAdjust="spacingAndGlyphs">20</text>
<line x1="603.90" y1="245.90" x2="606.50" y2="245.90" stroke="#888" stroke-width="0.8"/>
<text x="599.20" y="221.90" font-size="7.2" text-anchor="end" textLength="8.90" lengthAdjust="spacingAndGlyphs">30</text>
<line x1="603.90" y1="219.30" x2="606.50" y2="219.30" stroke="#888" stroke-width="0.8"/>
<line x1="603.90" y1="299.10" x2="660.00" y2="299.10" stroke="#888" stroke-width="0.8"/>
<rect x="614.60" y="256.90" width="15.50" height="42.20" fill="#fff" stroke="#3a3a3a" stroke-width="0.6"/>
<rect x="637.40" y="234.70" width="14.60" height="64.40" fill="#c9c9c9" stroke="#3a3a3a" stroke-width="0.6"/>
<line x1="621.90" y1="299.10" x2="621.90" y2="301.60" stroke="#888" stroke-width="0.7"/>
<line x1="644.50" y1="299.10" x2="644.50" y2="301.60" stroke="#888" stroke-width="0.7"/>
<circle cx="615.90" cy="258.60" r="1.45" fill="#fff" stroke="#333" stroke-width="0.55"/>
<circle cx="621.90" cy="255.70" r="1.45" fill="#fff" stroke="#333" stroke-width="0.55"/>
<circle cx="627.90" cy="256.10" r="1.45" fill="#fff" stroke="#333" stroke-width="0.55"/>
<circle cx="639.20" cy="234.70" r="1.45" fill="#fff" stroke="#333" stroke-width="0.55"/>
<circle cx="644.60" cy="233.00" r="1.45" fill="#fff" stroke="#333" stroke-width="0.55"/>
<circle cx="650.60" cy="233.80" r="1.45" fill="#fff" stroke="#333" stroke-width="0.55"/>
<path d="M621.5,250.1 L621.5,223.6 L645,223.6 L645,228.7" fill="none" stroke="#555" stroke-width="0.75"/>
<text x="615.40" y="219.60" font-size="7.0" textLength="34.70" lengthAdjust="spacingAndGlyphs"><tspan font-style="italic">P</tspan> &lt; 0.0001</text>
<text x="0" y="0" font-size="8.6" text-anchor="middle" transform="translate(583.10,259.00) rotate(-90)" textLength="90" lengthAdjust="spacingAndGlyphs">CD62L<tspan font-size="5" dy="-3.2">+</tspan><tspan dy="3.2"> CAR T cells (%)</tspan></text>
<text x="623.70" y="310.50" font-size="7.4" text-anchor="end" transform="rotate(-45 623.70 310.50)">Control</text>
<text x="648.00" y="310.30" font-size="7.4" text-anchor="end" textLength="44.00" lengthAdjust="spacingAndGlyphs" transform="rotate(-45 648.00 310.30)">BACH2–ERT2</text>
<text x="2.10" y="373.60" font-size="12" fill="#111" font-weight="bold" stroke="#111" stroke-width="0.3">g</text>
<rect x="25.20" y="371.20" width="7.80" height="7.40" fill="#fff" stroke="#999" stroke-width="0.8"/>
<text x="39.00" y="377.20" font-size="7.4" textLength="24.60" lengthAdjust="spacingAndGlyphs">Control</text>
<rect x="25.20" y="383.80" width="7.80" height="7.40" fill="#6e6e6e" stroke="none" stroke-width="0.8"/>
<text x="39.00" y="390.20" font-size="7.4" textLength="34.00" lengthAdjust="spacingAndGlyphs">BACH2-ER</text>
<text x="73.30" y="387.00" font-size="4.2">T2</text>
<path d="M26.00,491.40 L26.00,491.40 L28.00,491.00 L30.00,490.00 L32.00,487.00 L34.00,480.00 L36.00,468.00 L38.00,455.00 L39.00,445.00 L40.00,430.00 L41.00,418.00 L42.00,412.00 L43.00,416.00 L44.00,418.00 L45.00,414.00 L46.00,420.00 L47.00,418.00 L48.00,426.00 L49.00,432.00 L50.00,438.00 L51.00,442.00 L52.00,448.00 L54.00,455.00 L56.00,462.00 L58.00,467.00 L60.00,471.00 L62.00,474.00 L64.00,477.00 L66.00,479.00 L68.00,481.00 L70.00,483.00 L72.00,483.00 L74.00,485.00 L76.00,486.00 L80.00,487.50 L85.00,489.00 L90.00,490.00 L100.00,491.00 L120.00,491.40 L120.00,491.40 Z" fill="#c9c9c9" stroke="none" stroke-width="0.6" stroke-linejoin="round"/>
<path d="M26.00,491.40 L28.00,491.00 L30.00,490.00 L32.00,487.00 L34.00,480.00 L36.00,468.00 L38.00,455.00 L39.00,445.00 L40.00,430.00 L41.00,418.00 L42.00,412.00 L43.00,416.00 L44.00,418.00 L45.00,414.00 L46.00,420.00 L47.00,418.00 L48.00,426.00 L49.00,432.00 L50.00,438.00 L51.00,442.00 L52.00,448.00 L54.00,455.00 L56.00,462.00 L58.00,467.00 L60.00,471.00 L62.00,474.00 L64.00,477.00 L66.00,479.00 L68.00,481.00 L70.00,483.00 L72.00,483.00 L74.00,485.00 L76.00,486.00 L80.00,487.50 L85.00,489.00 L90.00,490.00 L100.00,491.00 L120.00,491.40" fill="none" stroke="#444" stroke-width="0.55" stroke-linejoin="round"/>
<path d="M26.00,491.40 L30.00,491.00 L32.00,490.00 L34.00,487.00 L36.00,482.00 L38.00,474.00 L40.00,465.00 L42.00,455.00 L44.00,445.00 L46.00,435.00 L48.00,428.00 L49.00,424.00 L50.00,420.00 L51.00,418.00 L52.00,424.00 L53.00,426.00 L54.00,428.00 L55.00,432.00 L56.00,430.00 L57.00,436.00 L58.00,438.00 L60.00,442.00 L62.00,446.00 L64.00,450.00 L66.00,455.00 L68.00,458.00 L70.00,460.00 L72.00,465.00 L74.00,466.00 L76.00,466.00 L78.00,468.00 L80.00,470.00 L82.00,471.00 L84.00,474.00 L86.00,476.00 L88.00,478.00 L90.00,480.00 L92.00,482.00 L94.00,484.00 L96.00,485.00 L98.00,486.50 L100.00,488.00 L104.00,489.00 L108.00,489.50 L112.00,490.00 L116.00,490.50 L120.00,491.00" fill="none" stroke="#333" stroke-width="0.55" stroke-linejoin="round"/>
<path d="M24.50,397.50 L119.50,397.50 L119.50,491.40" fill="none" stroke="#666" stroke-width="0.8"/>
<line x1="24.50" y1="397.50" x2="24.50" y2="491.40" stroke="#c4c4c4" stroke-width="1.8"/>
<line x1="23.50" y1="491.40" x2="119.50" y2="491.40" stroke="#555" stroke-width="0.8"/>
<text x="17.80" y="403.90" font-size="7.0" text-anchor="end" textLength="12.45" lengthAdjust="spacingAndGlyphs">100</text>
<line x1="21.50" y1="401.50" x2="24.50" y2="401.50" stroke="#999" stroke-width="0.7"/>
<text x="17.80" y="421.88" font-size="7.0" text-anchor="end" textLength="8.30" lengthAdjust="spacingAndGlyphs">80</text>
<line x1="21.50" y1="419.48" x2="24.50" y2="419.48" stroke="#999" stroke-width="0.7"/>
<text x="17.80" y="439.86" font-size="7.0" text-anchor="end" textLength="8.30" lengthAdjust="spacingAndGlyphs">60</text>
<line x1="21.50" y1="437.46" x2="24.50" y2="437.46" stroke="#999" stroke-width="0.7"/>
<text x="17.80" y="457.84" font-size="7.0" text-anchor="end" textLength="8.30" lengthAdjust="spacingAndGlyphs">40</text>
<line x1="21.50" y1="455.44" x2="24.50" y2="455.44" stroke="#999" stroke-width="0.7"/>
<text x="17.80" y="475.82" font-size="7.0" text-anchor="end" textLength="8.30" lengthAdjust="spacingAndGlyphs">20</text>
<line x1="21.50" y1="473.42" x2="24.50" y2="473.42" stroke="#999" stroke-width="0.7"/>
<text x="17.80" y="493.80" font-size="7.0" text-anchor="end" textLength="4.15" lengthAdjust="spacingAndGlyphs">0</text>
<line x1="21.50" y1="491.40" x2="24.50" y2="491.40" stroke="#999" stroke-width="0.7"/>
<line x1="23.30" y1="406.00" x2="24.50" y2="406.00" stroke="#333" stroke-width="0.6"/>
<line x1="23.30" y1="410.49" x2="24.50" y2="410.49" stroke="#333" stroke-width="0.6"/>
<line x1="23.30" y1="414.99" x2="24.50" y2="414.99" stroke="#333" stroke-width="0.6"/>
<line x1="23.30" y1="423.98" x2="24.50" y2="423.98" stroke="#333" stroke-width="0.6"/>
<line x1="23.30" y1="428.47" x2="24.50" y2="428.47" stroke="#333" stroke-width="0.6"/>
<line x1="23.30" y1="432.96" x2="24.50" y2="432.96" stroke="#333" stroke-width="0.6"/>
<line x1="23.30" y1="441.95" x2="24.50" y2="441.95" stroke="#333" stroke-width="0.6"/>
<line x1="23.30" y1="446.45" x2="24.50" y2="446.45" stroke="#333" stroke-width="0.6"/>
<line x1="23.30" y1="450.94" x2="24.50" y2="450.94" stroke="#333" stroke-width="0.6"/>
<line x1="23.30" y1="459.94" x2="24.50" y2="459.94" stroke="#333" stroke-width="0.6"/>
<line x1="23.30" y1="464.43" x2="24.50" y2="464.43" stroke="#333" stroke-width="0.6"/>
<line x1="23.30" y1="468.92" x2="24.50" y2="468.92" stroke="#333" stroke-width="0.6"/>
<line x1="23.30" y1="477.91" x2="24.50" y2="477.91" stroke="#333" stroke-width="0.6"/>
<line x1="23.30" y1="482.41" x2="24.50" y2="482.41" stroke="#333" stroke-width="0.6"/>
<line x1="23.30" y1="486.90" x2="24.50" y2="486.90" stroke="#333" stroke-width="0.6"/>
<text x="33.80" y="505.50" font-size="7.4" text-anchor="middle" textLength="4.20" lengthAdjust="spacingAndGlyphs">0</text>
<text x="73.40" y="505.50" font-size="7.4" text-anchor="middle" textLength="8.00" lengthAdjust="spacingAndGlyphs">10</text>
<text x="77.50" y="502.10" font-size="4.6">4</text>
<text x="108.30" y="505.50" font-size="7.4" text-anchor="middle" textLength="8.00" lengthAdjust="spacingAndGlyphs">10</text>
<text x="112.40" y="502.10" font-size="4.6">5</text>
<text x="56.80" y="517.40" font-size="8.5" textLength="30.30" lengthAdjust="spacingAndGlyphs">PD-1–PE</text>
<line x1="33.80" y1="491.40" x2="33.80" y2="493.90" stroke="#555" stroke-width="0.7"/>
<line x1="73.90" y1="491.40" x2="73.90" y2="493.90" stroke="#555" stroke-width="0.7"/>
<line x1="108.80" y1="491.40" x2="108.80" y2="493.90" stroke="#555" stroke-width="0.7"/>
<line x1="84.41" y1="491.40" x2="84.41" y2="492.90" stroke="#555" stroke-width="0.4"/>
<line x1="49.51" y1="491.40" x2="49.51" y2="492.90" stroke="#555" stroke-width="0.4"/>
<line x1="119.31" y1="491.40" x2="119.31" y2="492.90" stroke="#555" stroke-width="0.4"/>
<line x1="90.55" y1="491.40" x2="90.55" y2="492.90" stroke="#555" stroke-width="0.4"/>
<line x1="55.65" y1="491.40" x2="55.65" y2="492.90" stroke="#555" stroke-width="0.4"/>
<line x1="94.91" y1="491.40" x2="94.91" y2="492.90" stroke="#555" stroke-width="0.4"/>
<line x1="60.01" y1="491.40" x2="60.01" y2="492.90" stroke="#555" stroke-width="0.4"/>
<line x1="98.29" y1="491.40" x2="98.29" y2="492.90" stroke="#555" stroke-width="0.4"/>
<line x1="63.39" y1="491.40" x2="63.39" y2="492.90" stroke="#555" stroke-width="0.4"/>
<line x1="101.06" y1="491.40" x2="101.06" y2="492.90" stroke="#555" stroke-width="0.4"/>
<line x1="66.16" y1="491.40" x2="66.16" y2="492.90" stroke="#555" stroke-width="0.4"/>
<line x1="103.39" y1="491.40" x2="103.39" y2="492.90" stroke="#555" stroke-width="0.4"/>
<line x1="68.49" y1="491.40" x2="68.49" y2="492.90" stroke="#555" stroke-width="0.4"/>
<line x1="105.42" y1="491.40" x2="105.42" y2="492.90" stroke="#555" stroke-width="0.4"/>
<line x1="70.52" y1="491.40" x2="70.52" y2="492.90" stroke="#555" stroke-width="0.4"/>
<line x1="107.20" y1="491.40" x2="107.20" y2="492.90" stroke="#555" stroke-width="0.4"/>
<line x1="72.30" y1="491.40" x2="72.30" y2="492.90" stroke="#555" stroke-width="0.4"/>
<line x1="169.50" y1="403.10" x2="169.50" y2="482.60" stroke="#888" stroke-width="0.8"/>
<text x="164.30" y="485.20" font-size="7.2" text-anchor="end" textLength="4.45" lengthAdjust="spacingAndGlyphs">0</text>
<line x1="166.90" y1="482.60" x2="169.50" y2="482.60" stroke="#888" stroke-width="0.8"/>
<text x="164.30" y="469.30" font-size="7.2" text-anchor="end" textLength="20.00" lengthAdjust="spacingAndGlyphs">2,000</text>
<line x1="166.90" y1="466.70" x2="169.50" y2="466.70" stroke="#888" stroke-width="0.8"/>
<text x="164.30" y="453.40" font-size="7.2" text-anchor="end" textLength="20.00" lengthAdjust="spacingAndGlyphs">4,000</text>
<line x1="166.90" y1="450.80" x2="169.50" y2="450.80" stroke="#888" stroke-width="0.8"/>
<text x="164.30" y="437.50" font-size="7.2" text-anchor="end" textLength="20.00" lengthAdjust="spacingAndGlyphs">6,000</text>
<line x1="166.90" y1="434.90" x2="169.50" y2="434.90" stroke="#888" stroke-width="0.8"/>
<text x="164.30" y="421.60" font-size="7.2" text-anchor="end" textLength="20.00" lengthAdjust="spacingAndGlyphs">8,000</text>
<line x1="166.90" y1="419.00" x2="169.50" y2="419.00" stroke="#888" stroke-width="0.8"/>
<text x="164.30" y="405.70" font-size="7.2" text-anchor="end" textLength="24.45" lengthAdjust="spacingAndGlyphs">10,000</text>
<line x1="166.90" y1="403.10" x2="169.50" y2="403.10" stroke="#888" stroke-width="0.8"/>
<line x1="166.90" y1="482.60" x2="222.30" y2="482.60" stroke="#888" stroke-width="0.8"/>
<rect x="177.60" y="416.30" width="14.90" height="66.30" fill="#fff" stroke="#3a3a3a" stroke-width="0.6"/>
<rect x="200.20" y="453.70" width="14.90" height="28.90" fill="#c9c9c9" stroke="#3a3a3a" stroke-width="0.6"/>
<line x1="185.05" y1="482.60" x2="185.05" y2="485.10" stroke="#888" stroke-width="0.7"/>
<line x1="207.65" y1="482.60" x2="207.65" y2="485.10" stroke="#888" stroke-width="0.7"/>
<circle cx="178.90" cy="416.70" r="1.5" fill="#fff" stroke="#333" stroke-width="0.55"/>
<circle cx="185.20" cy="414.00" r="1.5" fill="#fff" stroke="#333" stroke-width="0.55"/>
<circle cx="191.20" cy="415.80" r="1.5" fill="#fff" stroke="#333" stroke-width="0.55"/>
<line x1="207.50" y1="449.00" x2="207.50" y2="458.00" stroke="#333" stroke-width="0.5"/>
<line x1="206.00" y1="449.00" x2="209.00" y2="449.00" stroke="#333" stroke-width="0.5"/>
<circle cx="204.20" cy="456.10" r="1.5" fill="#fff" stroke="#333" stroke-width="0.55"/>
<circle cx="207.50" cy="451.00" r="1.5" fill="#fff" stroke="#333" stroke-width="0.55"/>
<circle cx="211.80" cy="454.30" r="1.5" fill="#fff" stroke="#333" stroke-width="0.55"/>
<path d="M184.3,412.2 L184.3,403.3 L207.8,403.3 L207.8,446.5" fill="none" stroke="#555" stroke-width="0.75"/>
<text x="176.20" y="401.30" font-size="7.0" textLength="34.90" lengthAdjust="spacingAndGlyphs"><tspan font-style="italic">P</tspan> &lt; 0.0001</text>
<text x="0" y="0" font-size="8.8" text-anchor="middle" transform="translate(135.00,443.20) rotate(-90)" textLength="33.5" lengthAdjust="spacingAndGlyphs">PD-1 MFI</text>
<text x="187.30" y="493.20" font-size="7.4" text-anchor="end" transform="rotate(-45 187.30 493.20)">Control</text>
<text x="210.95" y="493.00" font-size="7.4" text-anchor="end" textLength="44.00" lengthAdjust="spacingAndGlyphs" transform="rotate(-45 210.95 493.00)">BACH2–ERT2</text>
<text x="227.40" y="374.00" font-size="12" fill="#111" font-weight="bold" stroke="#111" stroke-width="0.3">h</text>
<rect x="245.60" y="371.20" width="7.80" height="7.40" fill="#fff" stroke="#999" stroke-width="0.8"/>
<text x="259.40" y="377.20" font-size="7.4" textLength="24.60" lengthAdjust="spacingAndGlyphs">Control</text>
<rect x="245.60" y="383.80" width="7.80" height="7.40" fill="#6e6e6e" stroke="none" stroke-width="0.8"/>
<text x="259.40" y="390.20" font-size="7.4" textLength="34.00" lengthAdjust="spacingAndGlyphs">BACH2-ER</text>
<text x="293.70" y="387.00" font-size="4.2">T2</text>
<path d="M249.00,491.40 L249.00,491.40 L255.00,491.20 L260.00,490.50 L263.00,490.00 L265.00,489.00 L267.00,485.00 L269.00,477.00 L271.00,466.00 L273.00,453.00 L275.00,440.00 L277.00,425.00 L278.00,418.00 L280.00,412.00 L281.60,407.00 L283.00,410.00 L285.00,416.00 L287.00,420.00 L289.00,426.00 L291.00,430.00 L293.00,438.00 L295.00,447.00 L297.00,463.00 L299.00,465.00 L301.00,466.00 L303.00,472.00 L305.00,478.00 L307.00,481.00 L309.00,483.00 L311.00,484.00 L313.00,486.00 L315.00,489.00 L318.00,490.50 L323.00,491.00 L342.60,491.40 L342.60,491.40 Z" fill="#c9c9c9" stroke="none" stroke-width="0.6" stroke-linejoin="round"/>
<path d="M249.00,491.40 L255.00,491.20 L260.00,490.50 L263.00,490.00 L265.00,489.00 L267.00,485.00 L269.00,477.00 L271.00,466.00 L273.00,453.00 L275.00,440.00 L277.00,425.00 L278.00,418.00 L280.00,412.00 L281.60,407.00 L283.00,410.00 L285.00,416.00 L287.00,420.00 L289.00,426.00 L291.00,430.00 L293.00,438.00 L295.00,447.00 L297.00,463.00 L299.00,465.00 L301.00,466.00 L303.00,472.00 L305.00,478.00 L307.00,481.00 L309.00,483.00 L311.00,484.00 L313.00,486.00 L315.00,489.00 L318.00,490.50 L323.00,491.00 L342.60,491.40" fill="none" stroke="#444" stroke-width="0.55" stroke-linejoin="round"/>
<path d="M249.00,491.40 L260.00,491.00 L265.00,490.00 L267.00,489.00 L270.00,484.00 L273.00,476.00 L275.00,471.00 L277.00,463.00 L279.00,456.00 L281.00,450.00 L283.00,447.00 L285.00,444.00 L287.00,439.00 L289.00,432.00 L290.00,429.00 L291.00,426.00 L292.00,432.00 L293.00,433.00 L295.00,425.00 L297.00,418.00 L298.00,414.00 L300.00,416.00 L302.00,421.00 L304.00,416.00 L305.60,412.40 L307.00,416.00 L309.00,422.00 L311.00,428.00 L313.00,436.00 L315.00,443.00 L317.00,450.00 L319.00,459.00 L321.00,466.00 L323.00,471.00 L325.00,477.00 L327.00,482.00 L329.00,487.00 L331.00,489.50 L333.00,490.60 L342.60,491.40" fill="none" stroke="#333" stroke-width="0.55" stroke-linejoin="round"/>
<path d="M247.30,397.50 L342.60,397.50 L342.60,491.40" fill="none" stroke="#666" stroke-width="0.8"/>
<line x1="247.30" y1="397.50" x2="247.30" y2="491.40" stroke="#777" stroke-width="0.8"/>
<line x1="246.30" y1="491.40" x2="342.60" y2="491.40" stroke="#555" stroke-width="0.8"/>
<text x="240.90" y="403.70" font-size="7.0" text-anchor="end" textLength="12.45" lengthAdjust="spacingAndGlyphs">100</text>
<line x1="244.30" y1="401.30" x2="247.30" y2="401.30" stroke="#999" stroke-width="0.7"/>
<text x="240.90" y="421.72" font-size="7.0" text-anchor="end" textLength="8.30" lengthAdjust="spacingAndGlyphs">80</text>
<line x1="244.30" y1="419.32" x2="247.30" y2="419.32" stroke="#999" stroke-width="0.7"/>
<text x="240.90" y="439.74" font-size="7.0" text-anchor="end" textLength="8.30" lengthAdjust="spacingAndGlyphs">60</text>
<line x1="244.30" y1="437.34" x2="247.30" y2="437.34" stroke="#999" stroke-width="0.7"/>
<text x="240.90" y="457.76" font-size="7.0" text-anchor="end" textLength="8.30" lengthAdjust="spacingAndGlyphs">40</text>
<line x1="244.30" y1="455.36" x2="247.30" y2="455.36" stroke="#999" stroke-width="0.7"/>
<text x="240.90" y="475.78" font-size="7.0" text-anchor="end" textLength="8.30" lengthAdjust="spacingAndGlyphs">20</text>
<line x1="244.30" y1="473.38" x2="247.30" y2="473.38" stroke="#999" stroke-width="0.7"/>
<text x="240.90" y="493.80" font-size="7.0" text-anchor="end" textLength="4.15" lengthAdjust="spacingAndGlyphs">0</text>
<line x1="244.30" y1="491.40" x2="247.30" y2="491.40" stroke="#999" stroke-width="0.7"/>
<line x1="246.10" y1="405.81" x2="247.30" y2="405.81" stroke="#333" stroke-width="0.6"/>
<line x1="246.10" y1="410.31" x2="247.30" y2="410.31" stroke="#333" stroke-width="0.6"/>
<line x1="246.10" y1="414.81" x2="247.30" y2="414.81" stroke="#333" stroke-width="0.6"/>
<line x1="246.10" y1="423.82" x2="247.30" y2="423.82" stroke="#333" stroke-width="0.6"/>
<line x1="246.10" y1="428.33" x2="247.30" y2="428.33" stroke="#333" stroke-width="0.6"/>
<line x1="246.10" y1="432.83" x2="247.30" y2="432.83" stroke="#333" stroke-width="0.6"/>
<line x1="246.10" y1="441.84" x2="247.30" y2="441.84" stroke="#333" stroke-width="0.6"/>
<line x1="246.10" y1="446.35" x2="247.30" y2="446.35" stroke="#333" stroke-width="0.6"/>
<line x1="246.10" y1="450.86" x2="247.30" y2="450.86" stroke="#333" stroke-width="0.6"/>
<line x1="246.10" y1="459.87" x2="247.30" y2="459.87" stroke="#333" stroke-width="0.6"/>
<line x1="246.10" y1="464.37" x2="247.30" y2="464.37" stroke="#333" stroke-width="0.6"/>
<line x1="246.10" y1="468.88" x2="247.30" y2="468.88" stroke="#333" stroke-width="0.6"/>
<line x1="246.10" y1="477.88" x2="247.30" y2="477.88" stroke="#333" stroke-width="0.6"/>
<line x1="246.10" y1="482.39" x2="247.30" y2="482.39" stroke="#333" stroke-width="0.6"/>
<line x1="246.10" y1="486.89" x2="247.30" y2="486.89" stroke="#333" stroke-width="0.6"/>
<text x="257.10" y="505.50" font-size="7.4" text-anchor="middle" textLength="4.20" lengthAdjust="spacingAndGlyphs">0</text>
<text x="299.10" y="505.50" font-size="7.4" text-anchor="middle" textLength="8.00" lengthAdjust="spacingAndGlyphs">10</text>
<text x="303.20" y="502.10" font-size="4.6">4</text>
<text x="332.10" y="505.50" font-size="7.4" text-anchor="middle" textLength="8.00" lengthAdjust="spacingAndGlyphs">10</text>
<text x="336.20" y="502.10" font-size="4.6">5</text>
<text x="270.60" y="517.40" font-size="8.5" textLength="49.00" lengthAdjust="spacingAndGlyphs">TIM3-BV605</text>
<line x1="257.10" y1="491.40" x2="257.10" y2="493.90" stroke="#555" stroke-width="0.7"/>
<line x1="299.60" y1="491.40" x2="299.60" y2="493.90" stroke="#555" stroke-width="0.7"/>
<line x1="332.60" y1="491.40" x2="332.60" y2="493.90" stroke="#555" stroke-width="0.7"/>
<line x1="309.53" y1="491.40" x2="309.53" y2="492.90" stroke="#555" stroke-width="0.4"/>
<line x1="276.53" y1="491.40" x2="276.53" y2="492.90" stroke="#555" stroke-width="0.4"/>
<line x1="342.53" y1="491.40" x2="342.53" y2="492.90" stroke="#555" stroke-width="0.4"/>
<line x1="315.35" y1="491.40" x2="315.35" y2="492.90" stroke="#555" stroke-width="0.4"/>
<line x1="282.35" y1="491.40" x2="282.35" y2="492.90" stroke="#555" stroke-width="0.4"/>
<line x1="319.47" y1="491.40" x2="319.47" y2="492.90" stroke="#555" stroke-width="0.4"/>
<line x1="286.47" y1="491.40" x2="286.47" y2="492.90" stroke="#555" stroke-width="0.4"/>
<line x1="322.67" y1="491.40" x2="322.67" y2="492.90" stroke="#555" stroke-width="0.4"/>
<line x1="289.67" y1="491.40" x2="289.67" y2="492.90" stroke="#555" stroke-width="0.4"/>
<line x1="325.28" y1="491.40" x2="325.28" y2="492.90" stroke="#555" stroke-width="0.4"/>
<line x1="292.28" y1="491.40" x2="292.28" y2="492.90" stroke="#555" stroke-width="0.4"/>
<line x1="327.49" y1="491.40" x2="327.49" y2="492.90" stroke="#555" stroke-width="0.4"/>
<line x1="294.49" y1="491.40" x2="294.49" y2="492.90" stroke="#555" stroke-width="0.4"/>
<line x1="329.40" y1="491.40" x2="329.40" y2="492.90" stroke="#555" stroke-width="0.4"/>
<line x1="296.40" y1="491.40" x2="296.40" y2="492.90" stroke="#555" stroke-width="0.4"/>
<line x1="331.09" y1="491.40" x2="331.09" y2="492.90" stroke="#555" stroke-width="0.4"/>
<line x1="298.09" y1="491.40" x2="298.09" y2="492.90" stroke="#555" stroke-width="0.4"/>
<line x1="397.60" y1="405.50" x2="397.60" y2="483.50" stroke="#888" stroke-width="0.8"/>
<text x="391.20" y="486.10" font-size="7.6" text-anchor="end" textLength="4.70" lengthAdjust="spacingAndGlyphs">0</text>
<line x1="395.00" y1="483.50" x2="397.60" y2="483.50" stroke="#888" stroke-width="0.8"/>
<text x="391.20" y="460.10" font-size="7.6" text-anchor="end" textLength="21.00" lengthAdjust="spacingAndGlyphs">5,000</text>
<line x1="395.00" y1="457.50" x2="397.60" y2="457.50" stroke="#888" stroke-width="0.8"/>
<text x="391.20" y="434.10" font-size="7.6" text-anchor="end" textLength="25.70" lengthAdjust="spacingAndGlyphs">10,000</text>
<line x1="395.00" y1="431.50" x2="397.60" y2="431.50" stroke="#888" stroke-width="0.8"/>
<text x="391.20" y="408.10" font-size="7.6" text-anchor="end" textLength="25.70" lengthAdjust="spacingAndGlyphs">15,000</text>
<line x1="395.00" y1="405.50" x2="397.60" y2="405.50" stroke="#888" stroke-width="0.8"/>
<line x1="395.00" y1="483.50" x2="449.60" y2="483.50" stroke="#888" stroke-width="0.8"/>
<rect x="405.40" y="414.00" width="14.40" height="69.50" fill="#fff" stroke="#3a3a3a" stroke-width="0.6"/>
<rect x="427.90" y="451.00" width="14.50" height="32.50" fill="#c9c9c9" stroke="#3a3a3a" stroke-width="0.6"/>
<line x1="412.60" y1="483.50" x2="412.60" y2="486.00" stroke="#888" stroke-width="0.7"/>
<line x1="435.15" y1="483.50" x2="435.15" y2="486.00" stroke="#888" stroke-width="0.7"/>
<circle cx="406.70" cy="414.00" r="1.5" fill="#fff" stroke="#333" stroke-width="0.55"/>
<circle cx="412.50" cy="413.10" r="1.5" fill="#fff" stroke="#333" stroke-width="0.55"/>
<circle cx="418.30" cy="413.60" r="1.5" fill="#fff" stroke="#333" stroke-width="0.55"/>
<circle cx="428.80" cy="451.40" r="1.5" fill="#fff" stroke="#333" stroke-width="0.55"/>
<circle cx="434.60" cy="450.70" r="1.5" fill="#fff" stroke="#333" stroke-width="0.55"/>
<circle cx="441.10" cy="450.70" r="1.5" fill="#fff" stroke="#333" stroke-width="0.55"/>
<path d="M412.2,408.6 L412.2,404.9 L434.6,404.9 L434.6,446" fill="none" stroke="#555" stroke-width="0.75"/>
<text x="402.00" y="400.00" font-size="8.6" textLength="41.60" lengthAdjust="spacingAndGlyphs"><tspan font-style="italic">P</tspan> &lt; 0.0001</text>
<text x="0" y="0" font-size="9.6" text-anchor="middle" transform="translate(359.80,443.80) rotate(-90)" textLength="36" lengthAdjust="spacingAndGlyphs">TIM3 MFI</text>
<text x="414.90" y="494.20" font-size="7.4" text-anchor="end" transform="rotate(-45 414.90 494.20)">Control</text>
<text x="438.45" y="494.00" font-size="7.4" text-anchor="end" textLength="44.00" lengthAdjust="spacingAndGlyphs" transform="rotate(-45 438.45 494.00)">BACH2–ERT2</text>
<text x="458.20" y="373.80" font-size="12" fill="#111" font-weight="bold" stroke="#111" stroke-width="0.3">i</text>
<line x1="495.40" y1="384.20" x2="495.40" y2="482.50" stroke="#777" stroke-width="0.8"/>
<text x="489.00" y="485.40" font-size="8.2" text-anchor="end" textLength="4.78" lengthAdjust="spacingAndGlyphs">0</text>
<line x1="492.20" y1="482.50" x2="495.40" y2="482.50" stroke="#777" stroke-width="0.8"/>
<text x="489.00" y="452.63" font-size="8.2" text-anchor="end" textLength="14.34" lengthAdjust="spacingAndGlyphs">100</text>
<line x1="492.20" y1="449.73" x2="495.40" y2="449.73" stroke="#777" stroke-width="0.8"/>
<text x="489.00" y="419.86" font-size="8.2" text-anchor="end" textLength="14.34" lengthAdjust="spacingAndGlyphs">200</text>
<line x1="492.20" y1="416.96" x2="495.40" y2="416.96" stroke="#777" stroke-width="0.8"/>
<text x="489.00" y="387.09" font-size="8.2" text-anchor="end" textLength="14.34" lengthAdjust="spacingAndGlyphs">300</text>
<line x1="492.20" y1="384.19" x2="495.40" y2="384.19" stroke="#777" stroke-width="0.8"/>
<line x1="492.20" y1="482.50" x2="657.00" y2="482.50" stroke="#777" stroke-width="0.8"/>
<line x1="504.00" y1="482.50" x2="504.00" y2="485.00" stroke="#555" stroke-width="0.7"/>
<text x="504.00" y="496.00" font-size="7.4" text-anchor="middle">6</text>
<line x1="517.00" y1="482.50" x2="517.00" y2="485.00" stroke="#555" stroke-width="0.7"/>
<text x="517.00" y="496.00" font-size="7.4" text-anchor="middle">8</text>
<line x1="530.00" y1="482.50" x2="530.00" y2="485.00" stroke="#555" stroke-width="0.7"/>
<text x="530.00" y="496.00" font-size="7.4" text-anchor="middle">10</text>
<line x1="543.00" y1="482.50" x2="543.00" y2="485.00" stroke="#555" stroke-width="0.7"/>
<text x="543.00" y="496.00" font-size="7.4" text-anchor="middle">12</text>
<line x1="556.40" y1="482.50" x2="556.40" y2="485.00" stroke="#555" stroke-width="0.7"/>
<text x="556.40" y="496.00" font-size="7.4" text-anchor="middle">14</text>
<line x1="569.60" y1="482.50" x2="569.60" y2="485.00" stroke="#555" stroke-width="0.7"/>
<text x="569.60" y="496.00" font-size="7.4" text-anchor="middle">15</text>
<line x1="583.00" y1="482.50" x2="583.00" y2="485.00" stroke="#555" stroke-width="0.7"/>
<text x="583.00" y="496.00" font-size="7.4" text-anchor="middle">16</text>
<line x1="596.00" y1="482.50" x2="596.00" y2="485.00" stroke="#555" stroke-width="0.7"/>
<text x="596.00" y="496.00" font-size="7.4" text-anchor="middle">17</text>
<line x1="609.00" y1="482.50" x2="609.00" y2="485.00" stroke="#555" stroke-width="0.7"/>
<text x="609.00" y="496.00" font-size="7.4" text-anchor="middle">18</text>
<line x1="622.40" y1="482.50" x2="622.40" y2="485.00" stroke="#555" stroke-width="0.7"/>
<text x="622.40" y="496.00" font-size="7.4" text-anchor="middle">19</text>
<line x1="635.40" y1="482.50" x2="635.40" y2="485.00" stroke="#555" stroke-width="0.7"/>
<text x="635.40" y="496.00" font-size="7.4" text-anchor="middle">20</text>
<line x1="648.40" y1="482.50" x2="648.40" y2="485.00" stroke="#555" stroke-width="0.7"/>
<text x="648.40" y="496.00" font-size="7.4" text-anchor="middle">21</text>
<text x="471.00" y="496.00" font-size="7.0" textLength="20.40" lengthAdjust="spacingAndGlyphs">(Days)</text>
<path d="M504.00,481.00 L517.00,477.40 L530.00,459.00 L543.00,442.00 L556.40,450.60 L569.60,450.60 L583.00,446.50 L596.00,442.40 L609.00,436.40 L622.40,429.00 L635.40,417.00 L648.40,406.60" fill="none" stroke="#444" stroke-width="0.7" stroke-linejoin="round"/>
<path d="M504.00,481.00 L517.00,477.40 L530.00,460.40 L543.00,447.00 L556.40,455.50 L569.60,457.50 L583.00,457.50 L596.00,458.00 L609.00,452.00 L622.40,450.00 L635.40,448.00 L648.40,438.60" fill="none" stroke="#e5534f" stroke-width="0.75" stroke-linejoin="round"/>
<line x1="543.00" y1="444.20" x2="543.00" y2="449.80" stroke="#e5534f" stroke-width="0.6"/>
<line x1="541.50" y1="444.20" x2="544.50" y2="444.20" stroke="#e5534f" stroke-width="0.6"/>
<line x1="541.50" y1="449.80" x2="544.50" y2="449.80" stroke="#e5534f" stroke-width="0.6"/>
<circle cx="543.00" cy="447.00" r="2.0" fill="#fff" stroke="#e5534f" stroke-width="0.75"/>
<line x1="556.40" y1="452.50" x2="556.40" y2="458.50" stroke="#e5534f" stroke-width="0.6"/>
<line x1="554.90" y1="452.50" x2="557.90" y2="452.50" stroke="#e5534f" stroke-width="0.6"/>
<line x1="554.90" y1="458.50" x2="557.90" y2="458.50" stroke="#e5534f" stroke-width="0.6"/>
<circle cx="556.40" cy="455.50" r="2.0" fill="#fff" stroke="#e5534f" stroke-width="0.75"/>
<line x1="569.60" y1="454.90" x2="569.60" y2="460.10" stroke="#e5534f" stroke-width="0.6"/>
<line x1="568.10" y1="454.90" x2="571.10" y2="454.90" stroke="#e5534f" stroke-width="0.6"/>
<line x1="568.10" y1="460.10" x2="571.10" y2="460.10" stroke="#e5534f" stroke-width="0.6"/>
<circle cx="569.60" cy="457.50" r="2.0" fill="#fff" stroke="#e5534f" stroke-width="0.75"/>
<circle cx="583.00" cy="457.50" r="2.0" fill="#fff" stroke="#e5534f" stroke-width="0.75"/>
<circle cx="596.00" cy="458.00" r="2.0" fill="#fff" stroke="#e5534f" stroke-width="0.75"/>
<line x1="609.00" y1="448.70" x2="609.00" y2="455.30" stroke="#e5534f" stroke-width="0.6"/>
<line x1="607.50" y1="448.70" x2="610.50" y2="448.70" stroke="#e5534f" stroke-width="0.6"/>
<line x1="607.50" y1="455.30" x2="610.50" y2="455.30" stroke="#e5534f" stroke-width="0.6"/>
<circle cx="609.00" cy="452.00" r="2.0" fill="#fff" stroke="#e5534f" stroke-width="0.75"/>
<line x1="622.40" y1="446.50" x2="622.40" y2="453.50" stroke="#e5534f" stroke-width="0.6"/>
<line x1="620.90" y1="446.50" x2="623.90" y2="446.50" stroke="#e5534f" stroke-width="0.6"/>
<line x1="620.90" y1="453.50" x2="623.90" y2="453.50" stroke="#e5534f" stroke-width="0.6"/>
<circle cx="622.40" cy="450.00" r="2.0" fill="#fff" stroke="#e5534f" stroke-width="0.75"/>
<line x1="635.40" y1="445.80" x2="635.40" y2="450.20" stroke="#e5534f" stroke-width="0.6"/>
<line x1="633.90" y1="445.80" x2="636.90" y2="445.80" stroke="#e5534f" stroke-width="0.6"/>
<line x1="633.90" y1="450.20" x2="636.90" y2="450.20" stroke="#e5534f" stroke-width="0.6"/>
<circle cx="635.40" cy="448.00" r="2.0" fill="#fff" stroke="#e5534f" stroke-width="0.75"/>
<line x1="648.40" y1="435.20" x2="648.40" y2="442.00" stroke="#e5534f" stroke-width="0.6"/>
<line x1="646.90" y1="435.20" x2="649.90" y2="435.20" stroke="#e5534f" stroke-width="0.6"/>
<line x1="646.90" y1="442.00" x2="649.90" y2="442.00" stroke="#e5534f" stroke-width="0.6"/>
<circle cx="648.40" cy="438.60" r="2.0" fill="#fff" stroke="#e5534f" stroke-width="0.75"/>
<circle cx="504.00" cy="481.00" r="2.0" fill="#fff" stroke="#333" stroke-width="0.7"/>
<circle cx="517.00" cy="477.40" r="2.0" fill="#fff" stroke="#333" stroke-width="0.7"/>
<line x1="530.00" y1="458.00" x2="530.00" y2="460.00" stroke="#333" stroke-width="0.6"/>
<line x1="528.50" y1="458.00" x2="531.50" y2="458.00" stroke="#333" stroke-width="0.6"/>
<line x1="528.50" y1="460.00" x2="531.50" y2="460.00" stroke="#333" stroke-width="0.6"/>
<circle cx="530.00" cy="459.00" r="2.0" fill="#fff" stroke="#333" stroke-width="0.7"/>
<circle cx="543.00" cy="442.00" r="2.0" fill="#fff" stroke="#333" stroke-width="0.7"/>
<line x1="556.40" y1="448.00" x2="556.40" y2="453.20" stroke="#333" stroke-width="0.6"/>
<line x1="554.90" y1="448.00" x2="557.90" y2="448.00" stroke="#333" stroke-width="0.6"/>
<line x1="554.90" y1="453.20" x2="557.90" y2="453.20" stroke="#333" stroke-width="0.6"/>
<circle cx="556.40" cy="450.60" r="2.0" fill="#fff" stroke="#333" stroke-width="0.7"/>
<circle cx="569.60" cy="450.60" r="2.0" fill="#fff" stroke="#333" stroke-width="0.7"/>
<circle cx="583.00" cy="446.50" r="2.0" fill="#fff" stroke="#333" stroke-width="0.7"/>
<line x1="596.00" y1="440.60" x2="596.00" y2="444.20" stroke="#333" stroke-width="0.6"/>
<line x1="594.50" y1="440.60" x2="597.50" y2="440.60" stroke="#333" stroke-width="0.6"/>
<line x1="594.50" y1="444.20" x2="597.50" y2="444.20" stroke="#333" stroke-width="0.6"/>
<circle cx="596.00" cy="442.40" r="2.0" fill="#fff" stroke="#333" stroke-width="0.7"/>
<circle cx="609.00" cy="436.40" r="2.0" fill="#fff" stroke="#333" stroke-width="0.7"/>
<line x1="622.40" y1="424.80" x2="622.40" y2="433.20" stroke="#333" stroke-width="0.6"/>
<line x1="620.90" y1="424.80" x2="623.90" y2="424.80" stroke="#333" stroke-width="0.6"/>
<line x1="620.90" y1="433.20" x2="623.90" y2="433.20" stroke="#333" stroke-width="0.6"/>
<circle cx="622.40" cy="429.00" r="2.0" fill="#fff" stroke="#333" stroke-width="0.7"/>
<line x1="635.40" y1="413.40" x2="635.40" y2="420.60" stroke="#333" stroke-width="0.6"/>
<line x1="633.90" y1="413.40" x2="636.90" y2="413.40" stroke="#333" stroke-width="0.6"/>
<line x1="633.90" y1="420.60" x2="636.90" y2="420.60" stroke="#333" stroke-width="0.6"/>
<circle cx="635.40" cy="417.00" r="2.0" fill="#fff" stroke="#333" stroke-width="0.7"/>
<line x1="648.40" y1="403.80" x2="648.40" y2="409.40" stroke="#333" stroke-width="0.6"/>
<line x1="646.90" y1="403.80" x2="649.90" y2="403.80" stroke="#333" stroke-width="0.6"/>
<line x1="646.90" y1="409.40" x2="649.90" y2="409.40" stroke="#333" stroke-width="0.6"/>
<circle cx="648.40" cy="406.60" r="2.0" fill="#fff" stroke="#333" stroke-width="0.7"/>
<circle cx="504.00" cy="481.00" r="2.0" fill="#fff" stroke="#e5534f" stroke-width="0.75"/>
<circle cx="517.00" cy="477.40" r="2.0" fill="#fff" stroke="#e5534f" stroke-width="0.75"/>
<line x1="530.00" y1="458.00" x2="530.00" y2="462.80" stroke="#e5534f" stroke-width="0.6"/>
<line x1="528.50" y1="458.00" x2="531.50" y2="458.00" stroke="#e5534f" stroke-width="0.6"/>
<line x1="528.50" y1="462.80" x2="531.50" y2="462.80" stroke="#e5534f" stroke-width="0.6"/>
<circle cx="530.00" cy="460.40" r="2.0" fill="#fff" stroke="#e5534f" stroke-width="0.75"/>
<ellipse cx="504.5" cy="386.1" rx="2.5" ry="1.7" fill="#fff" stroke="#333" stroke-width="0.8"/>
<text x="513.00" y="387.80" font-size="7.4" textLength="24.40" lengthAdjust="spacingAndGlyphs">Control</text>
<ellipse cx="504.5" cy="395.7" rx="2.5" ry="1.7" fill="#fff" stroke="#e5534f" stroke-width="0.8"/>
<text x="513.00" y="398.20" font-size="7.4" textLength="34.00" lengthAdjust="spacingAndGlyphs">BACH2–ER</text>
<text x="547.40" y="394.80" font-size="4.2">T2</text>
<text x="0" y="0" font-size="8.8" text-anchor="middle" transform="translate(466.2,433.4) rotate(-90)" textLength="81.6" lengthAdjust="spacingAndGlyphs">Tumor volume (mm<tspan font-size="4.6" dy="-3">3</tspan><tspan dy="3">)</tspan></text>
<text x="553.60" y="442.00" font-size="7.4" textLength="35.20" lengthAdjust="spacingAndGlyphs"><tspan font-style="italic">P</tspan> = 0.0054</text>
<text x="569.00" y="433.60" font-size="7.4" textLength="35.20" lengthAdjust="spacingAndGlyphs"><tspan font-style="italic">P</tspan> = 0.0012</text>
<text x="581.00" y="425.60" font-size="7.4" textLength="35.20" lengthAdjust="spacingAndGlyphs"><tspan font-style="italic">P</tspan> = 0.0022</text>
<text x="592.40" y="416.60" font-size="7.4" textLength="35.20" lengthAdjust="spacingAndGlyphs"><tspan font-style="italic">P</tspan> = 0.0067</text>
<text x="606.00" y="408.60" font-size="7.4" textLength="35.20" lengthAdjust="spacingAndGlyphs"><tspan font-style="italic">P</tspan> &lt; 0.0001</text>
<text x="628.00" y="400.00" font-size="7.4" textLength="35.20" lengthAdjust="spacingAndGlyphs"><tspan font-style="italic">P</tspan> &lt; 0.0001</text>
<text x="557.00" y="469.00" font-size="7.4" textLength="26.00" lengthAdjust="spacingAndGlyphs"><tspan font-style="italic">P</tspan> = 0.04</text>
<line x1="550.40" y1="486.50" x2="550.40" y2="502.00" stroke="#333" stroke-width="0.6"/>
<path d="M550.4,484.4 L549.2,487.4 L551.6,487.4 Z" fill="#333"/>
<text x="520.60" y="517.00" font-size="7.6" textLength="71.40" lengthAdjust="spacingAndGlyphs">CAR T cell transfer</text>
</g>
</svg>
</body></html>
